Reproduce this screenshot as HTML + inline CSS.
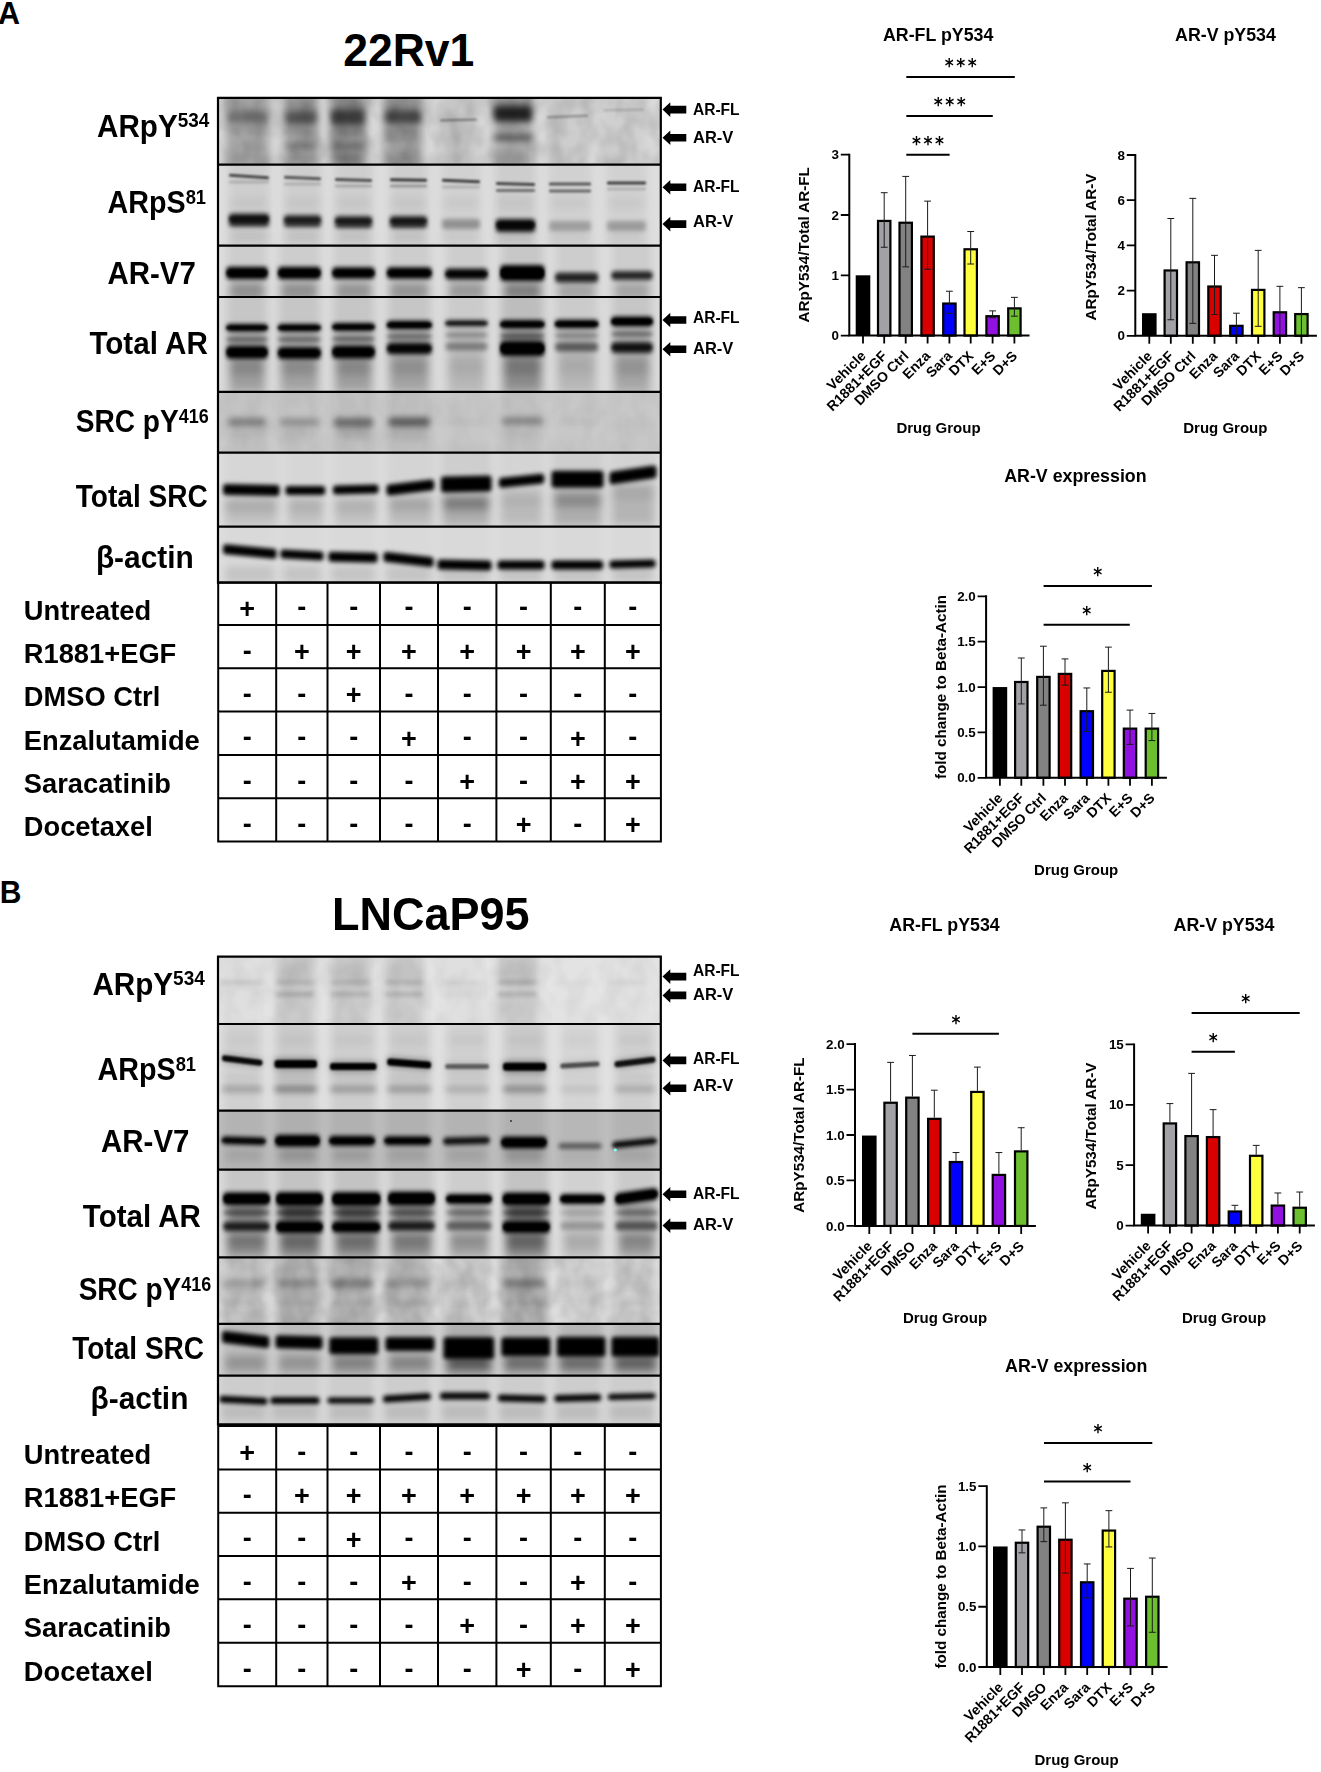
<!DOCTYPE html>
<html lang="en"><head><meta charset="utf-8"><title>Figure</title>
<style>html,body{margin:0;padding:0;background:#fff}svg{display:block}text{font-family:"Liberation Sans",sans-serif;fill:#000}text.st{font-family:"DejaVu Sans Condensed","DejaVu Sans",sans-serif;font-weight:bold}</style></head><body>
<svg width="1321" height="1772" viewBox="0 0 1321 1772">
<rect width="1321" height="1772" fill="#fff"/>
<defs>
<filter id="bs" filterUnits="userSpaceOnUse" x="200" y="80" width="480" height="1360"><feGaussianBlur stdDeviation="1.2"/></filter>
<filter id="bm" filterUnits="userSpaceOnUse" x="200" y="80" width="480" height="1360"><feGaussianBlur stdDeviation="2.1"/></filter>
<filter id="bx" filterUnits="userSpaceOnUse" x="200" y="80" width="480" height="1360"><feGaussianBlur stdDeviation="3.2"/></filter>
<filter id="bl" filterUnits="userSpaceOnUse" x="200" y="80" width="480" height="1360"><feGaussianBlur stdDeviation="4.5"/></filter>
<filter id="bg" filterUnits="userSpaceOnUse" x="200" y="80" width="480" height="1360"><feGaussianBlur stdDeviation="5.0"/></filter>
<filter id="nz" filterUnits="userSpaceOnUse" x="210" y="90" width="460" height="1340"><feTurbulence type="fractalNoise" baseFrequency="0.06 0.045" numOctaves="2" seed="7"/><feColorMatrix type="matrix" values="0 0 0 0 0 0 0 0 0 0 0 0 0 0 0 0.32 0 0 0 -0.1"/></filter>
<clipPath id="cp0"><rect x="218.0" y="97.9" width="442.79999999999995" height="66.80"/></clipPath>
<clipPath id="cp1"><rect x="218.0" y="164.7" width="442.79999999999995" height="80.90"/></clipPath>
<clipPath id="cp2"><rect x="218.0" y="245.6" width="442.79999999999995" height="51.40"/></clipPath>
<clipPath id="cp3"><rect x="218.0" y="297.0" width="442.79999999999995" height="94.80"/></clipPath>
<clipPath id="cp4"><rect x="218.0" y="391.8" width="442.79999999999995" height="60.80"/></clipPath>
<clipPath id="cp5"><rect x="218.0" y="452.6" width="442.79999999999995" height="74.00"/></clipPath>
<clipPath id="cp6"><rect x="218.0" y="526.6" width="442.79999999999995" height="56.00"/></clipPath>
<clipPath id="cp7"><rect x="218.0" y="956.7" width="442.79999999999995" height="67.30"/></clipPath>
<clipPath id="cp8"><rect x="218.0" y="1024.0" width="442.79999999999995" height="86.60"/></clipPath>
<clipPath id="cp9"><rect x="218.0" y="1110.6" width="442.79999999999995" height="59.00"/></clipPath>
<clipPath id="cp10"><rect x="218.0" y="1169.6" width="442.79999999999995" height="87.80"/></clipPath>
<clipPath id="cp11"><rect x="218.0" y="1257.4" width="442.79999999999995" height="66.40"/></clipPath>
<clipPath id="cp12"><rect x="218.0" y="1323.8" width="442.79999999999995" height="51.90"/></clipPath>
<clipPath id="cp13"><rect x="218.0" y="1375.7" width="442.79999999999995" height="48.70"/></clipPath>
</defs>
<g clip-path="url(#cp0)">
<rect x="218.0" y="97.9" width="442.79999999999995" height="66.80" fill="#dadada"/>
<g filter="url(#bg)" fill="#000">
<rect x="226.0" y="87.9" width="43.0" height="86.8" opacity="0.24"/>
<rect x="284.0" y="87.9" width="34.0" height="86.8" opacity="0.27"/>
<rect x="330.0" y="87.9" width="36.0" height="86.8" opacity="0.31"/>
<rect x="384.0" y="87.9" width="38.0" height="86.8" opacity="0.27"/>
<rect x="439.0" y="87.9" width="39.0" height="86.8" opacity="0.09"/>
<rect x="493.0" y="87.9" width="40.0" height="86.8" opacity="0.22"/>
<rect x="546.0" y="87.9" width="43.0" height="86.8" opacity="0.06"/>
<rect x="602.0" y="87.9" width="43.0" height="86.8" opacity="0.05"/>
</g>
<g filter="url(#bl)" fill="#000" stroke="#000" stroke-linecap="round" stroke-linejoin="round"><rect x="229.5" y="104.0" width="36.0" height="8.0" opacity="0.08"/><rect x="287.5" y="104.0" width="27.0" height="8.0" opacity="0.15"/><rect x="333.5" y="103.0" width="29.0" height="8.0" opacity="0.2"/><rect x="387.5" y="104.0" width="31.0" height="8.0" opacity="0.18"/><rect x="496.5" y="102.0" width="33.0" height="8.0" opacity="0.3"/><rect x="229.5" y="154.0" width="36.0" height="8.0" opacity="0.05"/><rect x="287.5" y="154.0" width="27.0" height="8.0" opacity="0.1"/><rect x="333.5" y="154.0" width="29.0" height="8.0" opacity="0.22"/><rect x="387.5" y="154.0" width="31.0" height="8.0" opacity="0.1"/><rect x="496.5" y="154.0" width="33.0" height="8.0" opacity="0.12"/></g>
<g filter="url(#bx)" fill="#000" stroke="#000" stroke-linecap="round" stroke-linejoin="round"><path d="M230.0 114.0L265.0 114.0V120.0L230.0 120.0Z" stroke-width="6.0" opacity="0.3"/><path d="M288.0 114.5L314.0 114.5V121.5L288.0 121.5Z" stroke-width="6.0" opacity="0.48"/><path d="M334.0 113.0L362.0 113.0V122.0L334.0 122.0Z" stroke-width="6.0" opacity="0.6"/><path d="M388.0 113.5L418.0 113.5V120.5L388.0 120.5Z" stroke-width="6.0" opacity="0.55"/><path d="M497.0 109.5L529.0 109.5V118.5L497.0 118.5Z" stroke-width="6.0" opacity="0.8"/><path d="M229.4 130.4L265.6 130.4V131.6L229.4 131.6Z" stroke-width="4.8" opacity="0.06"/><path d="M287.4 130.4L314.6 130.4V131.6L287.4 131.6Z" stroke-width="4.8" opacity="0.12"/><path d="M333.4 130.4L362.6 130.4V131.6L333.4 131.6Z" stroke-width="4.8" opacity="0.2"/><path d="M387.4 130.4L418.6 130.4V131.6L387.4 131.6Z" stroke-width="4.8" opacity="0.15"/><path d="M229.0 145.5L266.0 145.5V146.5L229.0 146.5Z" stroke-width="4.0" opacity="0.04"/><path d="M287.0 145.5L315.0 145.5V146.5L287.0 146.5Z" stroke-width="4.0" opacity="0.28"/><path d="M333.0 145.5L363.0 145.5V146.5L333.0 146.5Z" stroke-width="4.0" opacity="0.3"/><path d="M386.6 138.6L419.4 138.6V139.4L386.6 139.4Z" stroke-width="3.2" opacity="0.16"/><path d="M496.4 136.9L529.6 136.9V138.1L496.4 138.1Z" stroke-width="4.8" opacity="0.5"/></g>
<g filter="url(#bs)" fill="#000" stroke="#000" stroke-linecap="round" stroke-linejoin="round"><path d="M440.9 120.1L476.1 119.5V119.9L440.9 120.5Z" stroke-width="1.8" opacity="0.36"/><path d="M547.9 117.0L587.1 115.5V116.0L547.9 117.5Z" stroke-width="1.8" opacity="0.28"/><path d="M603.9 110.0L643.1 109.5V110.0L603.9 110.5Z" stroke-width="1.8" opacity="0.15"/></g>
<rect x="218.0" y="97.9" width="442.79999999999995" height="66.80" fill="#000" filter="url(#nz)" opacity="0.75"/>
</g>
<g clip-path="url(#cp1)">
<rect x="218.0" y="164.7" width="442.79999999999995" height="80.90" fill="#dedede"/>
<g filter="url(#bg)" fill="#000">
<rect x="228.0" y="154.7" width="42.0" height="100.9" opacity="0.07"/>
<rect x="283.0" y="154.7" width="39.0" height="100.9" opacity="0.07"/>
<rect x="334.0" y="154.7" width="39.0" height="100.9" opacity="0.07"/>
<rect x="389.0" y="154.7" width="39.0" height="100.9" opacity="0.07"/>
<rect x="441.0" y="154.7" width="40.0" height="100.9" opacity="0.06"/>
<rect x="495.0" y="154.7" width="41.0" height="100.9" opacity="0.08"/>
<rect x="548.0" y="154.7" width="44.0" height="100.9" opacity="0.06"/>
<rect x="606.0" y="154.7" width="41.0" height="100.9" opacity="0.06"/>
</g>
<g filter="url(#bl)" fill="#000" stroke="#000" stroke-linecap="round" stroke-linejoin="round"><rect x="231.5" y="200.0" width="35.0" height="6.0" opacity="0.06"/><rect x="286.5" y="200.0" width="32.0" height="6.0" opacity="0.06"/><rect x="337.5" y="200.0" width="32.0" height="6.0" opacity="0.06"/><rect x="392.5" y="200.0" width="32.0" height="6.0" opacity="0.06"/><rect x="444.5" y="200.0" width="33.0" height="6.0" opacity="0.06"/><rect x="498.5" y="200.0" width="34.0" height="6.0" opacity="0.06"/><rect x="551.5" y="200.0" width="37.0" height="6.0" opacity="0.06"/><rect x="609.5" y="200.0" width="34.0" height="6.0" opacity="0.06"/><rect x="231.5" y="232.0" width="35.0" height="8.0" opacity="0.08"/><rect x="286.5" y="232.0" width="32.0" height="8.0" opacity="0.08"/><rect x="337.5" y="232.0" width="32.0" height="8.0" opacity="0.08"/><rect x="392.5" y="232.0" width="32.0" height="8.0" opacity="0.08"/><rect x="444.5" y="232.0" width="33.0" height="8.0" opacity="0.05"/><rect x="498.5" y="232.0" width="34.0" height="8.0" opacity="0.1"/><rect x="551.5" y="232.0" width="37.0" height="8.0" opacity="0.05"/><rect x="609.5" y="232.0" width="34.0" height="8.0" opacity="0.05"/></g>
<g filter="url(#bm)" fill="#000" stroke="#000" stroke-linecap="round" stroke-linejoin="round"><path d="M232.0 216.5L266.0 216.5V223.5L232.0 223.5Z" stroke-width="6.0" opacity="0.85"/><path d="M287.0 218.0L318.0 218.0V224.0L287.0 224.0Z" stroke-width="6.0" opacity="0.78"/><path d="M338.0 219.0L369.0 219.0V225.0L338.0 225.0Z" stroke-width="6.0" opacity="0.8"/><path d="M393.0 219.0L424.0 219.0V225.0L393.0 225.0Z" stroke-width="6.0" opacity="0.82"/><path d="M445.0 222.0L477.0 222.0V226.0L445.0 226.0Z" stroke-width="6.0" opacity="0.3"/><path d="M499.0 222.0L532.0 222.0V229.0L499.0 229.0Z" stroke-width="6.0" opacity="0.92"/><path d="M552.0 224.0L588.0 224.0V228.0L552.0 228.0Z" stroke-width="6.0" opacity="0.24"/><path d="M610.0 224.0L643.0 224.0V228.0L610.0 228.0Z" stroke-width="6.0" opacity="0.25"/></g>
<g filter="url(#bs)" fill="#000" stroke="#000" stroke-linecap="round" stroke-linejoin="round"><path d="M230.2 175.0L267.8 177.4V178.0L230.2 175.6Z" stroke-width="2.4" opacity="0.66"/><path d="M285.2 176.9L319.8 178.4V179.1L285.2 177.6Z" stroke-width="2.4" opacity="0.58"/><path d="M336.2 179.2L370.8 180.2V180.8L336.2 179.8Z" stroke-width="2.4" opacity="0.62"/><path d="M391.2 179.4L425.8 179.9V180.6L391.2 180.1Z" stroke-width="2.4" opacity="0.72"/><path d="M443.2 179.9L478.8 181.4V182.1L443.2 180.6Z" stroke-width="2.4" opacity="0.7"/><path d="M497.2 183.2L533.8 184.2V184.8L497.2 183.8Z" stroke-width="2.4" opacity="0.66"/><path d="M550.2 183.7L589.8 183.7V184.3L550.2 184.3Z" stroke-width="2.4" opacity="0.58"/><path d="M608.2 182.7L644.8 182.7V183.3L608.2 183.3Z" stroke-width="2.4" opacity="0.7"/><path d="M230.2 181.7L267.8 181.7V182.3L230.2 182.3Z" stroke-width="2.4" opacity="0.15"/><path d="M285.2 183.7L319.8 183.7V184.3L285.2 184.3Z" stroke-width="2.4" opacity="0.15"/><path d="M336.2 185.7L370.8 185.7V186.3L336.2 186.3Z" stroke-width="2.4" opacity="0.18"/><path d="M391.2 185.7L425.8 185.7V186.3L391.2 186.3Z" stroke-width="2.4" opacity="0.25"/><path d="M443.2 186.7L478.8 186.7V187.3L443.2 187.3Z" stroke-width="2.4" opacity="0.15"/><path d="M497.2 190.2L533.8 190.2V190.8L497.2 190.8Z" stroke-width="2.4" opacity="0.45"/><path d="M550.2 190.7L589.8 190.7V191.3L550.2 191.3Z" stroke-width="2.4" opacity="0.5"/><path d="M608.2 188.7L644.8 188.7V189.3L608.2 189.3Z" stroke-width="2.4" opacity="0.15"/><path d="M231.0 218.5L267.0 218.5V219.5L231.0 219.5Z" stroke-width="4.0" opacity="0.5"/><path d="M285.6 219.6L319.4 219.6V220.4L285.6 220.4Z" stroke-width="3.2" opacity="0.35"/><path d="M336.6 220.6L370.4 220.6V221.4L336.6 221.4Z" stroke-width="3.2" opacity="0.4"/><path d="M391.6 220.6L425.4 220.6V221.4L391.6 221.4Z" stroke-width="3.2" opacity="0.4"/><path d="M498.4 224.4L532.6 224.4V225.6L498.4 225.6Z" stroke-width="4.8" opacity="0.6"/></g>
</g>
<g clip-path="url(#cp2)">
<rect x="218.0" y="245.6" width="442.79999999999995" height="51.40" fill="#dedede"/>
<g filter="url(#bg)" fill="#000">
<rect x="227.0" y="235.6" width="40.0" height="71.4" opacity="0.08"/>
<rect x="278.7" y="235.6" width="41.3" height="71.4" opacity="0.08"/>
<rect x="333.0" y="235.6" width="41.0" height="71.4" opacity="0.08"/>
<rect x="387.7" y="235.6" width="43.3" height="71.4" opacity="0.08"/>
<rect x="446.0" y="235.6" width="41.0" height="71.4" opacity="0.08"/>
<rect x="501.0" y="235.6" width="42.7" height="71.4" opacity="0.1"/>
<rect x="555.7" y="235.6" width="41.8" height="71.4" opacity="0.08"/>
<rect x="612.0" y="235.6" width="40.0" height="71.4" opacity="0.08"/>
</g>
<g filter="url(#bl)" fill="#000" stroke="#000" stroke-linecap="round" stroke-linejoin="round"><rect x="230.5" y="283.0" width="33.0" height="16.0" opacity="0.3"/><rect x="282.2" y="283.0" width="34.3" height="16.0" opacity="0.3"/><rect x="336.5" y="283.0" width="34.0" height="16.0" opacity="0.28"/><rect x="391.2" y="283.0" width="36.3" height="16.0" opacity="0.28"/><rect x="449.5" y="283.0" width="34.0" height="16.0" opacity="0.25"/><rect x="504.5" y="283.0" width="35.7" height="16.0" opacity="0.36"/><rect x="559.2" y="283.0" width="34.8" height="16.0" opacity="0.2"/><rect x="615.5" y="283.0" width="33.0" height="16.0" opacity="0.2"/></g>
<g filter="url(#bm)" fill="#000" stroke="#000" stroke-linecap="round" stroke-linejoin="round"><path d="M229.5 269.8L264.5 269.8V276.2L229.5 276.2Z" stroke-width="6.0" opacity="1"/><path d="M281.2 269.8L317.5 269.8V276.2L281.2 276.2Z" stroke-width="6.0" opacity="1"/><path d="M335.5 270.2L371.5 270.2V275.8L335.5 275.8Z" stroke-width="6.0" opacity="1"/><path d="M390.2 270.2L428.5 270.2V275.8L390.2 275.8Z" stroke-width="6.0" opacity="1"/><path d="M448.5 271.5L484.5 271.5V276.5L448.5 276.5Z" stroke-width="6.0" opacity="0.95"/><path d="M503.5 268.0L541.2 268.0V278.0L503.5 278.0Z" stroke-width="6.0" opacity="1"/><path d="M558.2 275.5L595.0 275.5V279.5L558.2 279.5Z" stroke-width="6.0" opacity="0.8"/><path d="M614.5 274.0L649.5 274.0V277.0L614.5 277.0Z" stroke-width="6.0" opacity="0.78"/></g>
<g filter="url(#bs)" fill="#000" stroke="#000" stroke-linecap="round" stroke-linejoin="round"><path d="M228.9 272.4L265.1 272.4V273.6L228.9 273.6Z" stroke-width="4.8" opacity="0.8"/><path d="M280.6 272.4L318.1 272.4V273.6L280.6 273.6Z" stroke-width="4.8" opacity="0.8"/><path d="M334.5 272.5L372.5 272.5V273.5L334.5 273.5Z" stroke-width="4.0" opacity="0.7"/><path d="M389.2 272.5L429.5 272.5V273.5L389.2 273.5Z" stroke-width="4.0" opacity="0.7"/><path d="M447.1 273.6L485.9 273.6V274.4L447.1 274.4Z" stroke-width="3.2" opacity="0.6"/><path d="M503.5 271.5L541.2 271.5V274.5L503.5 274.5Z" stroke-width="6.0" opacity="1"/><path d="M556.0 277.3L597.2 277.3V277.7L556.0 277.7Z" stroke-width="1.6" opacity="0.2"/><path d="M612.3 275.3L651.7 275.3V275.7L612.3 275.7Z" stroke-width="1.6" opacity="0.2"/></g>
</g>
<g clip-path="url(#cp3)">
<rect x="218.0" y="297.0" width="442.79999999999995" height="94.80" fill="#dcdcdc"/>
<g filter="url(#bg)" fill="#000">
<rect x="227.0" y="287.0" width="40.0" height="114.8" opacity="0.1"/>
<rect x="278.7" y="287.0" width="41.3" height="114.8" opacity="0.1"/>
<rect x="333.0" y="287.0" width="41.0" height="114.8" opacity="0.1"/>
<rect x="387.7" y="287.0" width="43.3" height="114.8" opacity="0.1"/>
<rect x="446.0" y="287.0" width="41.0" height="114.8" opacity="0.08"/>
<rect x="501.0" y="287.0" width="42.7" height="114.8" opacity="0.14"/>
<rect x="555.7" y="287.0" width="41.8" height="114.8" opacity="0.08"/>
<rect x="612.0" y="287.0" width="40.0" height="114.8" opacity="0.1"/>
</g>
<g filter="url(#bl)" fill="#000" stroke="#000" stroke-linecap="round" stroke-linejoin="round"><rect x="230.5" y="329.0" width="33.0" height="30.0" opacity="0.12"/><rect x="282.2" y="329.0" width="34.3" height="30.0" opacity="0.12"/><rect x="336.5" y="329.0" width="34.0" height="30.0" opacity="0.12"/><rect x="391.2" y="329.0" width="36.3" height="30.0" opacity="0.12"/><rect x="449.5" y="329.0" width="34.0" height="30.0" opacity="0.08"/><rect x="504.5" y="329.0" width="35.7" height="30.0" opacity="0.18"/><rect x="559.2" y="329.0" width="34.8" height="30.0" opacity="0.1"/><rect x="615.5" y="329.0" width="33.0" height="30.0" opacity="0.12"/><rect x="230.5" y="359.0" width="33.0" height="16.0" opacity="0.32"/><rect x="282.2" y="359.0" width="34.3" height="16.0" opacity="0.3"/><rect x="336.5" y="359.0" width="34.0" height="16.0" opacity="0.32"/><rect x="391.2" y="359.0" width="36.3" height="16.0" opacity="0.28"/><rect x="449.5" y="359.0" width="34.0" height="16.0" opacity="0.16"/><rect x="504.5" y="359.0" width="35.7" height="16.0" opacity="0.38"/><rect x="559.2" y="359.0" width="34.8" height="16.0" opacity="0.16"/><rect x="615.5" y="359.0" width="33.0" height="16.0" opacity="0.26"/><rect x="230.5" y="376.0" width="33.0" height="14.0" opacity="0.2"/><rect x="282.2" y="376.0" width="34.3" height="14.0" opacity="0.18"/><rect x="336.5" y="376.0" width="34.0" height="14.0" opacity="0.2"/><rect x="391.2" y="376.0" width="36.3" height="14.0" opacity="0.18"/><rect x="449.5" y="376.0" width="34.0" height="14.0" opacity="0.1"/><rect x="504.5" y="376.0" width="35.7" height="14.0" opacity="0.26"/><rect x="559.2" y="376.0" width="34.8" height="14.0" opacity="0.1"/><rect x="615.5" y="376.0" width="33.0" height="14.0" opacity="0.16"/></g>
<g filter="url(#bm)" fill="#000" stroke="#000" stroke-linecap="round" stroke-linejoin="round"><path d="M229.5 327.1L264.5 327.1V328.6L229.5 328.6Z" stroke-width="6.0" opacity="1"/><path d="M281.2 327.1L317.5 327.1V328.6L281.2 328.6Z" stroke-width="6.0" opacity="1"/><path d="M335.5 326.0L371.5 326.0V328.0L335.5 328.0Z" stroke-width="6.0" opacity="1"/><path d="M390.2 323.8L428.5 323.8V326.2L390.2 326.2Z" stroke-width="6.0" opacity="1"/><path d="M447.9 322.7L485.1 322.7V323.9L447.9 323.9Z" stroke-width="4.8" opacity="0.9"/><path d="M503.5 323.1L541.2 323.1V325.6L503.5 325.6Z" stroke-width="6.0" opacity="1"/><path d="M558.2 322.8L595.0 322.8V325.2L558.2 325.2Z" stroke-width="6.0" opacity="1"/><path d="M614.5 319.6L649.5 319.6V323.6L614.5 323.6Z" stroke-width="6.0" opacity="1"/><path d="M228.9 338.9L265.1 338.9V340.1L228.9 340.1Z" stroke-width="4.8" opacity="0.42"/><path d="M280.6 338.9L318.1 338.9V340.1L280.6 340.1Z" stroke-width="4.8" opacity="0.4"/><path d="M334.9 338.4L372.1 338.4V339.6L334.9 339.6Z" stroke-width="4.8" opacity="0.42"/><path d="M389.6 335.9L429.1 335.9V337.1L389.6 337.1Z" stroke-width="4.8" opacity="0.4"/><path d="M447.9 334.4L485.1 334.4V335.6L447.9 335.6Z" stroke-width="4.8" opacity="0.25"/><path d="M502.9 335.4L541.8 335.4V336.6L502.9 336.6Z" stroke-width="4.8" opacity="0.45"/><path d="M557.6 334.9L595.6 334.9V336.1L557.6 336.1Z" stroke-width="4.8" opacity="0.28"/><path d="M613.9 333.4L650.1 333.4V334.6L613.9 334.6Z" stroke-width="4.8" opacity="0.38"/><path d="M229.5 348.8L264.5 348.8V355.8L229.5 355.8Z" stroke-width="6.0" opacity="1"/><path d="M281.2 350.0L317.5 350.0V356.0L281.2 356.0Z" stroke-width="6.0" opacity="1"/><path d="M335.5 348.5L371.5 348.5V355.5L335.5 355.5Z" stroke-width="6.0" opacity="1"/><path d="M390.2 345.8L428.5 345.8V351.2L390.2 351.2Z" stroke-width="6.0" opacity="0.95"/><path d="M448.5 345.5L484.5 345.5V347.5L448.5 347.5Z" stroke-width="6.0" opacity="0.34"/><path d="M503.5 344.0L541.2 344.0V353.0L503.5 353.0Z" stroke-width="6.0" opacity="1"/><path d="M558.2 345.5L595.0 345.5V348.5L558.2 348.5Z" stroke-width="6.0" opacity="0.5"/><path d="M614.5 345.0L649.5 345.0V350.0L614.5 350.0Z" stroke-width="6.0" opacity="0.85"/></g>
<g filter="url(#bs)" fill="#000" stroke="#000" stroke-linecap="round" stroke-linejoin="round"><path d="M227.7 327.5L266.3 327.5V328.1L227.7 328.1Z" stroke-width="2.4" opacity="0.8"/><path d="M279.4 327.5L319.3 327.5V328.1L279.4 328.1Z" stroke-width="2.4" opacity="0.8"/><path d="M333.7 326.7L373.3 326.7V327.3L333.7 327.3Z" stroke-width="2.4" opacity="0.8"/><path d="M388.8 324.6L429.9 324.6V325.4L388.8 325.4Z" stroke-width="3.2" opacity="0.8"/><path d="M446.3 323.1L486.7 323.1V323.5L446.3 323.5Z" stroke-width="1.6" opacity="0.5"/><path d="M502.1 324.0L542.6 324.0V324.8L502.1 324.8Z" stroke-width="3.2" opacity="0.8"/><path d="M556.8 323.6L596.4 323.6V324.4L556.8 324.4Z" stroke-width="3.2" opacity="0.8"/><path d="M613.5 321.1L650.5 321.1V322.1L613.5 322.1Z" stroke-width="4.0" opacity="0.9"/><path d="M228.9 351.7L265.1 351.7V352.9L228.9 352.9Z" stroke-width="4.8" opacity="0.8"/><path d="M280.2 352.5L318.5 352.5V353.5L280.2 353.5Z" stroke-width="4.0" opacity="0.7"/><path d="M334.9 351.4L372.1 351.4V352.6L334.9 352.6Z" stroke-width="4.8" opacity="0.8"/><path d="M388.8 348.1L429.9 348.1V348.9L388.8 348.9Z" stroke-width="3.2" opacity="0.6"/><path d="M503.5 347.5L541.2 347.5V349.5L503.5 349.5Z" stroke-width="6.0" opacity="1"/><path d="M612.7 347.2L651.3 347.2V347.8L612.7 347.8Z" stroke-width="2.4" opacity="0.4"/></g>
</g>
<g clip-path="url(#cp4)">
<rect x="218.0" y="391.8" width="442.79999999999995" height="60.80" fill="#cbcbcb"/>
<g filter="url(#bg)" fill="#000">
<rect x="227.0" y="381.8" width="40.0" height="80.8" opacity="0.04"/>
<rect x="278.7" y="381.8" width="41.3" height="80.8" opacity="0.04"/>
<rect x="333.0" y="381.8" width="41.0" height="80.8" opacity="0.05"/>
<rect x="387.7" y="381.8" width="43.3" height="80.8" opacity="0.05"/>
<rect x="446.0" y="381.8" width="41.0" height="80.8" opacity="0.02"/>
<rect x="501.0" y="381.8" width="42.7" height="80.8" opacity="0.04"/>
<rect x="555.7" y="381.8" width="41.8" height="80.8" opacity="0.02"/>
<rect x="612.0" y="381.8" width="40.0" height="80.8" opacity="0.02"/>
</g>
<g filter="url(#bl)" fill="#000" stroke="#000" stroke-linecap="round" stroke-linejoin="round"><rect x="230.5" y="428.0" width="33.0" height="10.0" opacity="0.08"/><rect x="282.2" y="428.0" width="34.3" height="10.0" opacity="0.06"/><rect x="336.5" y="428.0" width="34.0" height="10.0" opacity="0.14"/><rect x="391.2" y="428.0" width="36.3" height="10.0" opacity="0.12"/><rect x="504.5" y="428.0" width="35.7" height="10.0" opacity="0.06"/></g>
<g filter="url(#bx)" fill="#000" stroke="#000" stroke-linecap="round" stroke-linejoin="round"><path d="M231.0 421.0L263.0 421.0V423.0L231.0 423.0Z" stroke-width="6.0" opacity="0.36"/><path d="M282.5 421.3L316.2 421.3V422.7L282.5 422.7Z" stroke-width="5.6" opacity="0.28"/><path d="M337.0 421.0L370.0 421.0V424.0L337.0 424.0Z" stroke-width="6.0" opacity="0.46"/><path d="M391.7 420.5L427.0 420.5V423.5L391.7 423.5Z" stroke-width="6.0" opacity="0.54"/><path d="M449.0 421.5L484.0 421.5V422.5L449.0 422.5Z" stroke-width="4.0" opacity="0.05"/><path d="M504.8 420.3L539.9 420.3V421.7L504.8 421.7Z" stroke-width="5.6" opacity="0.36"/><path d="M558.7 421.5L594.5 421.5V422.5L558.7 422.5Z" stroke-width="4.0" opacity="0.05"/><path d="M615.0 421.5L649.0 421.5V422.5L615.0 422.5Z" stroke-width="4.0" opacity="0.02"/></g>
<rect x="218.0" y="391.8" width="442.79999999999995" height="60.80" fill="#000" filter="url(#nz)" opacity="0.25"/>
</g>
<g clip-path="url(#cp5)">
<rect x="218.0" y="452.6" width="442.79999999999995" height="74.00" fill="#dfdfdf"/>
<g filter="url(#bg)" fill="#000">
<rect x="222.5" y="442.6" width="57.5" height="94.0" opacity="0.04"/>
<rect x="285.0" y="442.6" width="40.7" height="94.0" opacity="0.04"/>
<rect x="332.5" y="442.6" width="46.5" height="94.0" opacity="0.04"/>
<rect x="386.0" y="442.6" width="48.7" height="94.0" opacity="0.05"/>
<rect x="440.5" y="442.6" width="51.5" height="94.0" opacity="0.08"/>
<rect x="498.4" y="442.6" width="46.3" height="94.0" opacity="0.05"/>
<rect x="551.0" y="442.6" width="53.0" height="94.0" opacity="0.08"/>
<rect x="609.0" y="442.6" width="48.0" height="94.0" opacity="0.06"/>
</g>
<g filter="url(#bl)" fill="#000" stroke="#000" stroke-linecap="round" stroke-linejoin="round"><rect x="226.0" y="498.0" width="50.5" height="14.0" opacity="0.1"/><rect x="288.5" y="498.0" width="33.7" height="14.0" opacity="0.08"/><rect x="336.0" y="498.0" width="39.5" height="14.0" opacity="0.08"/><rect x="389.5" y="496.0" width="41.7" height="14.0" opacity="0.12"/><rect x="444.0" y="495.0" width="44.5" height="14.0" opacity="0.3"/><rect x="501.9" y="489.0" width="39.3" height="14.0" opacity="0.12"/><rect x="554.5" y="491.0" width="46.0" height="14.0" opacity="0.28"/><rect x="612.5" y="485.0" width="41.0" height="14.0" opacity="0.2"/><rect x="226.0" y="500.0" width="50.5" height="24.0" opacity="0.1"/><rect x="288.5" y="500.0" width="33.7" height="24.0" opacity="0.1"/><rect x="336.0" y="500.0" width="39.5" height="24.0" opacity="0.1"/><rect x="389.5" y="500.0" width="41.7" height="24.0" opacity="0.12"/><rect x="444.0" y="500.0" width="44.5" height="24.0" opacity="0.16"/><rect x="501.9" y="500.0" width="39.3" height="24.0" opacity="0.12"/><rect x="554.5" y="500.0" width="46.0" height="24.0" opacity="0.16"/><rect x="612.5" y="500.0" width="41.0" height="24.0" opacity="0.14"/></g>
<g filter="url(#bm)" fill="#000" stroke="#000" stroke-linecap="round" stroke-linejoin="round"><path d="M226.0 487.0L276.5 488.0V493.0L226.0 492.0Z" stroke-width="6.0" opacity="1"/><path d="M288.5 489.0L322.2 489.0V492.0L288.5 492.0Z" stroke-width="6.0" opacity="1"/><path d="M336.0 488.5L375.5 487.5V490.5L336.0 491.5Z" stroke-width="6.0" opacity="1"/><path d="M389.5 487.5L431.2 482.5V487.5L389.5 492.5Z" stroke-width="6.0" opacity="1"/><path d="M444.0 479.5L488.5 478.5V488.5L444.0 489.5Z" stroke-width="6.0" opacity="1"/><path d="M501.9 480.7L541.2 476.7V480.7L501.9 484.7Z" stroke-width="6.0" opacity="1"/><path d="M554.5 473.8L600.5 473.8V484.8L554.5 484.8Z" stroke-width="6.0" opacity="1"/><path d="M612.5 474.4L653.5 468.4V475.4L612.5 481.4Z" stroke-width="6.0" opacity="1"/></g>
</g>
<g clip-path="url(#cp6)">
<rect x="218.0" y="526.6" width="442.79999999999995" height="56.00" fill="#e0e0e0"/>
<g filter="url(#bg)" fill="#000">
<rect x="222.5" y="516.6" width="54.5" height="76.0" opacity="0.03"/>
<rect x="280.0" y="516.6" width="44.0" height="76.0" opacity="0.03"/>
<rect x="328.0" y="516.6" width="50.0" height="76.0" opacity="0.03"/>
<rect x="383.0" y="516.6" width="51.0" height="76.0" opacity="0.03"/>
<rect x="437.0" y="516.6" width="55.0" height="76.0" opacity="0.03"/>
<rect x="497.0" y="516.6" width="48.0" height="76.0" opacity="0.03"/>
<rect x="551.0" y="516.6" width="52.6" height="76.0" opacity="0.03"/>
<rect x="609.0" y="516.6" width="47.0" height="76.0" opacity="0.03"/>
</g>
<g filter="url(#bl)" fill="#000" stroke="#000" stroke-linecap="round" stroke-linejoin="round"><rect x="226.0" y="567.0" width="47.5" height="14.0" opacity="0.1"/><rect x="283.5" y="567.0" width="37.0" height="14.0" opacity="0.1"/><rect x="331.5" y="567.0" width="43.0" height="14.0" opacity="0.1"/><rect x="386.5" y="567.0" width="44.0" height="14.0" opacity="0.1"/><rect x="440.5" y="567.0" width="48.0" height="14.0" opacity="0.1"/><rect x="500.5" y="567.0" width="41.0" height="14.0" opacity="0.1"/><rect x="554.5" y="567.0" width="45.6" height="14.0" opacity="0.1"/><rect x="612.5" y="567.0" width="40.0" height="14.0" opacity="0.1"/></g>
<g filter="url(#bm)" fill="#000" stroke="#000" stroke-linecap="round" stroke-linejoin="round"><path d="M226.0 547.2L273.5 551.8V555.8L226.0 551.2Z" stroke-width="6.0" opacity="1"/><path d="M283.5 552.5L320.5 554.5V557.5L283.5 555.5Z" stroke-width="6.0" opacity="1"/><path d="M331.5 554.8L374.5 555.8V559.8L331.5 558.8Z" stroke-width="6.0" opacity="1"/><path d="M386.5 555.0L430.5 560.0V564.0L386.5 559.0Z" stroke-width="6.0" opacity="1"/><path d="M440.5 562.5L488.5 563.5V567.5L440.5 566.5Z" stroke-width="6.0" opacity="1"/><path d="M500.5 563.5L541.5 563.5V566.5L500.5 566.5Z" stroke-width="6.0" opacity="1"/><path d="M554.5 563.5L600.1 563.5V566.5L554.5 566.5Z" stroke-width="6.0" opacity="1"/><path d="M612.5 563.5L652.5 562.5V564.5L612.5 565.5Z" stroke-width="6.0" opacity="1"/></g>
</g>
<g clip-path="url(#cp7)">
<rect x="218.0" y="956.7" width="442.79999999999995" height="67.30" fill="#e6e6e6"/>
<g filter="url(#bg)" fill="#000">
<rect x="219.0" y="946.7" width="44.7" height="87.3" opacity="0.03"/>
<rect x="275.0" y="946.7" width="40.0" height="87.3" opacity="0.12"/>
<rect x="330.0" y="946.7" width="41.0" height="87.3" opacity="0.12"/>
<rect x="384.0" y="946.7" width="40.5" height="87.3" opacity="0.11"/>
<rect x="440.5" y="946.7" width="41.2" height="87.3" opacity="0.03"/>
<rect x="496.7" y="946.7" width="41.3" height="87.3" opacity="0.11"/>
<rect x="551.0" y="946.7" width="41.0" height="87.3" opacity="0.01"/>
<rect x="607.0" y="946.7" width="41.0" height="87.3" opacity="0.02"/>
</g>
<g filter="url(#bl)" fill="#000" stroke="#000" stroke-linecap="round" stroke-linejoin="round"><rect x="278.5" y="963.0" width="33.0" height="18.0" opacity="0.05"/><rect x="333.5" y="963.0" width="34.0" height="18.0" opacity="0.05"/><rect x="387.5" y="963.0" width="33.5" height="18.0" opacity="0.05"/><rect x="500.2" y="963.0" width="34.3" height="18.0" opacity="0.06"/></g>
<g filter="url(#bm)" fill="#000" stroke="#000" stroke-linecap="round" stroke-linejoin="round"><path d="M221.6 982.0L261.1 982.0V982.8L221.6 982.8Z" stroke-width="3.2" opacity="0.1"/><path d="M277.6 982.0L312.4 982.0V982.8L277.6 982.8Z" stroke-width="3.2" opacity="0.14"/><path d="M332.6 982.0L368.4 982.0V982.8L332.6 982.8Z" stroke-width="3.2" opacity="0.14"/><path d="M386.6 982.0L421.9 982.0V982.8L386.6 982.8Z" stroke-width="3.2" opacity="0.14"/><path d="M443.1 982.0L479.1 982.0V982.8L443.1 982.8Z" stroke-width="3.2" opacity="0.05"/><path d="M499.3 982.0L535.4 982.0V982.8L499.3 982.8Z" stroke-width="3.2" opacity="0.18"/><path d="M553.6 982.0L589.4 982.0V982.8L553.6 982.8Z" stroke-width="3.2" opacity="0.02"/><path d="M609.6 982.0L645.4 982.0V982.8L609.6 982.8Z" stroke-width="3.2" opacity="0.05"/><path d="M277.8 993.8L312.2 993.8V994.8L277.8 994.8Z" stroke-width="3.6" opacity="0.17"/><path d="M332.8 993.8L368.2 993.8V994.8L332.8 994.8Z" stroke-width="3.6" opacity="0.14"/><path d="M386.8 993.8L421.7 993.8V994.8L386.8 994.8Z" stroke-width="3.6" opacity="0.14"/><path d="M443.3 993.8L478.9 993.8V994.8L443.3 994.8Z" stroke-width="3.6" opacity="0.02"/><path d="M499.5 993.8L535.2 993.8V994.8L499.5 994.8Z" stroke-width="3.6" opacity="0.16"/></g>
<rect x="218.0" y="956.7" width="442.79999999999995" height="67.30" fill="#000" filter="url(#nz)" opacity="0.3"/>
</g>
<g clip-path="url(#cp8)">
<rect x="218.0" y="1024.0" width="442.79999999999995" height="86.60" fill="#e2e2e2"/>
<g filter="url(#bg)" fill="#000">
<rect x="222.5" y="1014.0" width="39.5" height="106.6" opacity="0.08"/>
<rect x="275.0" y="1014.0" width="41.5" height="106.6" opacity="0.1"/>
<rect x="330.5" y="1014.0" width="45.5" height="106.6" opacity="0.09"/>
<rect x="387.7" y="1014.0" width="42.9" height="106.6" opacity="0.09"/>
<rect x="445.6" y="1014.0" width="42.9" height="106.6" opacity="0.08"/>
<rect x="503.5" y="1014.0" width="42.2" height="106.6" opacity="0.1"/>
<rect x="560.8" y="1014.0" width="38.2" height="106.6" opacity="0.06"/>
<rect x="615.0" y="1014.0" width="40.0" height="106.6" opacity="0.08"/>
</g>
<g filter="url(#bl)" fill="#000" stroke="#000" stroke-linecap="round" stroke-linejoin="round"><rect x="226.0" y="1036.0" width="32.5" height="8.0" opacity="0.04"/><rect x="278.5" y="1036.0" width="34.5" height="8.0" opacity="0.05"/><rect x="334.0" y="1036.0" width="38.5" height="8.0" opacity="0.05"/><rect x="391.2" y="1036.0" width="35.9" height="8.0" opacity="0.05"/><rect x="449.1" y="1036.0" width="35.9" height="8.0" opacity="0.05"/><rect x="507.0" y="1036.0" width="35.2" height="8.0" opacity="0.05"/><rect x="564.3" y="1036.0" width="31.2" height="8.0" opacity="0.04"/><rect x="618.5" y="1036.0" width="33.0" height="8.0" opacity="0.05"/></g>
<g filter="url(#bx)" fill="#000" stroke="#000" stroke-linecap="round" stroke-linejoin="round"><path d="M225.0 1057.2L259.5 1061.8V1063.8L225.0 1059.2Z" stroke-width="6.0" opacity="0.3"/><path d="M277.5 1061.5L314.0 1061.5V1066.5L277.5 1066.5Z" stroke-width="6.0" opacity="0.4"/><path d="M333.0 1064.5L373.5 1064.5V1068.5L333.0 1068.5Z" stroke-width="6.0" opacity="0.35"/><path d="M390.2 1060.0L428.1 1063.0V1067.0L390.2 1064.0Z" stroke-width="6.0" opacity="0.35"/><path d="M447.9 1065.8L486.2 1065.8V1067.2L447.9 1067.2Z" stroke-width="5.6" opacity="0.15"/><path d="M506.0 1064.3L543.2 1064.3V1069.3L506.0 1069.3Z" stroke-width="6.0" opacity="0.4"/><path d="M563.1 1065.3L596.7 1063.3V1064.7L563.1 1066.7Z" stroke-width="5.6" opacity="0.15"/><path d="M617.5 1063.2L652.5 1058.8V1060.8L617.5 1065.2Z" stroke-width="6.0" opacity="0.3"/><path d="M224.8 1088.3L259.7 1088.3V1089.7L224.8 1089.7Z" stroke-width="5.6" opacity="0.24"/><path d="M277.3 1088.3L314.2 1088.3V1089.7L277.3 1089.7Z" stroke-width="5.6" opacity="0.38"/><path d="M332.8 1088.3L373.7 1088.3V1089.7L332.8 1089.7Z" stroke-width="5.6" opacity="0.28"/><path d="M390.0 1088.3L428.3 1088.3V1089.7L390.0 1089.7Z" stroke-width="5.6" opacity="0.28"/><path d="M447.9 1088.3L486.2 1088.3V1089.7L447.9 1089.7Z" stroke-width="5.6" opacity="0.18"/><path d="M505.8 1088.3L543.4 1088.3V1089.7L505.8 1089.7Z" stroke-width="5.6" opacity="0.34"/><path d="M563.1 1088.3L596.7 1088.3V1089.7L563.1 1089.7Z" stroke-width="5.6" opacity="0.1"/><path d="M617.3 1088.3L652.7 1088.3V1089.7L617.3 1089.7Z" stroke-width="5.6" opacity="0.2"/><path d="M224.0 1076.5L260.5 1076.5V1077.5L224.0 1077.5Z" stroke-width="4.0" opacity="0.05"/><path d="M276.5 1076.5L315.0 1076.5V1077.5L276.5 1077.5Z" stroke-width="4.0" opacity="0.12"/><path d="M332.0 1076.5L374.5 1076.5V1077.5L332.0 1077.5Z" stroke-width="4.0" opacity="0.08"/><path d="M389.2 1076.5L429.1 1076.5V1077.5L389.2 1077.5Z" stroke-width="4.0" opacity="0.08"/><path d="M447.1 1076.5L487.0 1076.5V1077.5L447.1 1077.5Z" stroke-width="4.0" opacity="0.06"/><path d="M505.0 1076.5L544.2 1076.5V1077.5L505.0 1077.5Z" stroke-width="4.0" opacity="0.1"/><path d="M562.3 1076.5L597.5 1076.5V1077.5L562.3 1077.5Z" stroke-width="4.0" opacity="0.04"/><path d="M616.5 1076.5L653.5 1076.5V1077.5L616.5 1077.5Z" stroke-width="4.0" opacity="0.06"/></g>
<g filter="url(#bs)" fill="#000" stroke="#000" stroke-linecap="round" stroke-linejoin="round"><path d="M224.4 1057.7L260.1 1062.2V1063.3L224.4 1058.8Z" stroke-width="4.8" opacity="0.95"/><path d="M277.5 1063.0L314.0 1063.0V1065.0L277.5 1065.0Z" stroke-width="6.0" opacity="1"/><path d="M332.8 1065.8L373.7 1065.8V1067.2L332.8 1067.2Z" stroke-width="5.6" opacity="1"/><path d="M390.0 1061.3L428.3 1064.3V1065.7L390.0 1062.7Z" stroke-width="5.6" opacity="1"/><path d="M447.1 1066.0L487.0 1066.0V1067.0L447.1 1067.0Z" stroke-width="4.0" opacity="0.5"/><path d="M506.0 1065.8L543.2 1065.8V1067.8L506.0 1067.8Z" stroke-width="6.0" opacity="1"/><path d="M562.3 1065.5L597.5 1063.5V1064.5L562.3 1066.5Z" stroke-width="4.0" opacity="0.6"/><path d="M616.9 1063.7L653.1 1059.2V1060.3L616.9 1064.8Z" stroke-width="4.8" opacity="0.9"/></g>
</g>
<g clip-path="url(#cp9)">
<rect x="218.0" y="1110.6" width="442.79999999999995" height="59.00" fill="#bebebe"/>
<g filter="url(#bg)" fill="#000">
<rect x="222.5" y="1100.6" width="42.5" height="79.0" opacity="0.06"/>
<rect x="276.0" y="1100.6" width="43.0" height="79.0" opacity="0.08"/>
<rect x="330.0" y="1100.6" width="44.0" height="79.0" opacity="0.07"/>
<rect x="385.0" y="1100.6" width="45.0" height="79.0" opacity="0.07"/>
<rect x="444.0" y="1100.6" width="45.0" height="79.0" opacity="0.06"/>
<rect x="502.0" y="1100.6" width="44.0" height="79.0" opacity="0.08"/>
<rect x="559.0" y="1100.6" width="42.0" height="79.0" opacity="0.04"/>
<rect x="613.0" y="1100.6" width="43.0" height="79.0" opacity="0.06"/>
</g>
<g filter="url(#bl)" fill="#000" stroke="#000" stroke-linecap="round" stroke-linejoin="round"><rect x="226.0" y="1150.5" width="35.5" height="9.0" opacity="0.1"/><rect x="279.5" y="1150.5" width="36.0" height="9.0" opacity="0.2"/><rect x="333.5" y="1150.5" width="37.0" height="9.0" opacity="0.15"/><rect x="388.5" y="1150.5" width="38.0" height="9.0" opacity="0.12"/><rect x="447.5" y="1150.5" width="38.0" height="9.0" opacity="0.12"/><rect x="505.5" y="1150.5" width="37.0" height="9.0" opacity="0.2"/><rect x="562.5" y="1150.5" width="35.0" height="9.0" opacity="0.06"/><rect x="616.5" y="1150.5" width="36.0" height="9.0" opacity="0.1"/></g>
<g filter="url(#bm)" fill="#000" stroke="#000" stroke-linecap="round" stroke-linejoin="round"><path d="M225.0 1139.3L262.5 1140.3V1142.3L225.0 1141.3Z" stroke-width="6.0" opacity="0.95"/><path d="M278.5 1137.8L316.5 1137.8V1143.8L278.5 1143.8Z" stroke-width="6.0" opacity="1"/><path d="M332.5 1138.8L371.5 1138.8V1142.8L332.5 1142.8Z" stroke-width="6.0" opacity="1"/><path d="M387.5 1139.3L427.5 1139.3V1142.3L387.5 1142.3Z" stroke-width="6.0" opacity="1"/><path d="M446.5 1140.3L486.5 1139.3V1141.3L446.5 1142.3Z" stroke-width="6.0" opacity="0.85"/><path d="M504.5 1139.5L543.5 1139.5V1145.5L504.5 1145.5Z" stroke-width="6.0" opacity="1"/><path d="M560.9 1145.3L599.1 1145.3V1146.5L560.9 1146.5Z" stroke-width="4.8" opacity="0.5"/><path d="M615.3 1144.3L653.7 1140.3V1141.7L615.3 1145.7Z" stroke-width="5.6" opacity="0.9"/></g>
<g filter="url(#bs)" fill="#000" stroke="#000" stroke-linecap="round" stroke-linejoin="round"><path d="M223.2 1140.0L264.3 1141.0V1141.6L223.2 1140.6Z" stroke-width="2.4" opacity="0.6"/><path d="M277.9 1140.2L317.1 1140.2V1141.4L277.9 1141.4Z" stroke-width="4.8" opacity="0.9"/><path d="M331.1 1140.4L372.9 1140.4V1141.2L331.1 1141.2Z" stroke-width="3.2" opacity="0.8"/><path d="M385.7 1140.5L429.3 1140.5V1141.1L385.7 1141.1Z" stroke-width="2.4" opacity="0.7"/><path d="M444.3 1141.1L488.7 1140.1V1140.5L444.3 1141.5Z" stroke-width="1.6" opacity="0.4"/><path d="M503.9 1141.9L544.1 1141.9V1143.1L503.9 1143.1Z" stroke-width="4.8" opacity="0.9"/><path d="M613.3 1144.8L655.7 1140.8V1141.2L613.3 1145.2Z" stroke-width="1.6" opacity="0.5"/></g>
<circle cx="615.3" cy="1150" r="1.6" fill="#8ff"/><circle cx="511" cy="1121" r="0.9" fill="#222"/>
</g>
<g clip-path="url(#cp10)">
<rect x="218.0" y="1169.6" width="442.79999999999995" height="87.80" fill="#dedede"/>
<g filter="url(#bg)" fill="#000">
<rect x="224.0" y="1159.6" width="45.0" height="107.8" opacity="0.1"/>
<rect x="277.0" y="1159.6" width="45.0" height="107.8" opacity="0.12"/>
<rect x="333.0" y="1159.6" width="46.5" height="107.8" opacity="0.12"/>
<rect x="389.0" y="1159.6" width="45.0" height="107.8" opacity="0.11"/>
<rect x="447.0" y="1159.6" width="44.0" height="107.8" opacity="0.08"/>
<rect x="503.5" y="1159.6" width="45.5" height="107.8" opacity="0.12"/>
<rect x="561.0" y="1159.6" width="42.7" height="107.8" opacity="0.06"/>
<rect x="616.0" y="1159.6" width="41.0" height="107.8" opacity="0.09"/>
</g>
<g filter="url(#bl)" fill="#000" stroke="#000" stroke-linecap="round" stroke-linejoin="round"><rect x="227.5" y="1204.0" width="38.0" height="18.0" opacity="0.4"/><rect x="280.5" y="1204.0" width="38.0" height="18.0" opacity="0.6"/><rect x="336.5" y="1204.0" width="39.5" height="18.0" opacity="0.55"/><rect x="392.5" y="1204.0" width="38.0" height="18.0" opacity="0.42"/><rect x="450.5" y="1204.0" width="37.0" height="18.0" opacity="0.28"/><rect x="507.0" y="1204.0" width="38.5" height="18.0" opacity="0.55"/><rect x="564.5" y="1204.0" width="35.7" height="18.0" opacity="0.12"/><rect x="619.5" y="1204.0" width="34.0" height="18.0" opacity="0.28"/><rect x="227.5" y="1233.0" width="38.0" height="14.0" opacity="0.42"/><rect x="280.5" y="1233.0" width="38.0" height="14.0" opacity="0.48"/><rect x="336.5" y="1233.0" width="39.5" height="14.0" opacity="0.45"/><rect x="392.5" y="1233.0" width="38.0" height="14.0" opacity="0.4"/><rect x="450.5" y="1233.0" width="37.0" height="14.0" opacity="0.3"/><rect x="507.0" y="1233.0" width="38.5" height="14.0" opacity="0.5"/><rect x="564.5" y="1233.0" width="35.7" height="14.0" opacity="0.18"/><rect x="619.5" y="1233.0" width="34.0" height="14.0" opacity="0.34"/><rect x="227.5" y="1247.0" width="38.0" height="10.0" opacity="0.25"/><rect x="280.5" y="1247.0" width="38.0" height="10.0" opacity="0.3"/><rect x="336.5" y="1247.0" width="39.5" height="10.0" opacity="0.28"/><rect x="392.5" y="1247.0" width="38.0" height="10.0" opacity="0.25"/><rect x="450.5" y="1247.0" width="37.0" height="10.0" opacity="0.18"/><rect x="507.0" y="1247.0" width="38.5" height="10.0" opacity="0.3"/><rect x="564.5" y="1247.0" width="35.7" height="10.0" opacity="0.1"/><rect x="619.5" y="1247.0" width="34.0" height="10.0" opacity="0.2"/></g>
<g filter="url(#bm)" fill="#000" stroke="#000" stroke-linecap="round" stroke-linejoin="round"><path d="M226.5 1195.2L266.5 1195.2V1202.2L226.5 1202.2Z" stroke-width="6.0" opacity="1"/><path d="M279.5 1195.0L319.5 1195.0V1203.0L279.5 1203.0Z" stroke-width="6.0" opacity="1"/><path d="M335.5 1195.0L377.0 1195.0V1203.0L335.5 1203.0Z" stroke-width="6.0" opacity="1"/><path d="M391.5 1194.5L431.5 1194.5V1202.5L391.5 1202.5Z" stroke-width="6.0" opacity="1"/><path d="M449.5 1197.0L488.5 1197.0V1201.0L449.5 1201.0Z" stroke-width="6.0" opacity="1"/><path d="M506.0 1195.5L546.5 1195.5V1202.5L506.0 1202.5Z" stroke-width="6.0" opacity="1"/><path d="M563.5 1197.0L601.2 1197.0V1201.0L563.5 1201.0Z" stroke-width="6.0" opacity="1"/><path d="M618.5 1196.0L654.5 1191.0V1197.0L618.5 1202.0Z" stroke-width="6.0" opacity="1"/><path d="M225.5 1212.0L267.5 1212.0V1213.0L225.5 1213.0Z" stroke-width="4.0" opacity="0.4"/><path d="M278.5 1212.0L320.5 1212.0V1213.0L278.5 1213.0Z" stroke-width="4.0" opacity="0.45"/><path d="M334.5 1212.0L378.0 1212.0V1213.0L334.5 1213.0Z" stroke-width="4.0" opacity="0.4"/><path d="M390.5 1212.0L432.5 1212.0V1213.0L390.5 1213.0Z" stroke-width="4.0" opacity="0.35"/><path d="M448.5 1212.0L489.5 1212.0V1213.0L448.5 1213.0Z" stroke-width="4.0" opacity="0.3"/><path d="M505.0 1212.0L547.5 1212.0V1213.0L505.0 1213.0Z" stroke-width="4.0" opacity="0.4"/><path d="M562.5 1212.0L602.2 1212.0V1213.0L562.5 1213.0Z" stroke-width="4.0" opacity="0.12"/><path d="M617.5 1212.0L655.5 1212.0V1213.0L617.5 1213.0Z" stroke-width="4.0" opacity="0.3"/><path d="M226.5 1224.6L266.5 1224.6V1228.6L226.5 1228.6Z" stroke-width="6.0" opacity="0.8"/><path d="M279.5 1223.8L319.5 1223.8V1230.2L279.5 1230.2Z" stroke-width="6.0" opacity="1"/><path d="M335.5 1224.2L377.0 1224.2V1229.8L335.5 1229.8Z" stroke-width="6.0" opacity="1"/><path d="M391.5 1224.0L431.5 1224.0V1228.0L391.5 1228.0Z" stroke-width="6.0" opacity="0.8"/><path d="M449.5 1224.5L488.5 1224.5V1227.5L449.5 1227.5Z" stroke-width="6.0" opacity="0.5"/><path d="M506.0 1223.8L546.5 1223.8V1230.2L506.0 1230.2Z" stroke-width="6.0" opacity="1"/><path d="M563.5 1225.0L601.2 1225.0V1227.0L563.5 1227.0Z" stroke-width="6.0" opacity="0.25"/><path d="M618.5 1224.5L654.5 1224.5V1227.5L618.5 1227.5Z" stroke-width="6.0" opacity="0.55"/></g>
<g filter="url(#bs)" fill="#000" stroke="#000" stroke-linecap="round" stroke-linejoin="round"><path d="M226.3 1198.0L266.7 1198.0V1199.4L226.3 1199.4Z" stroke-width="5.6" opacity="0.9"/><path d="M279.5 1198.0L319.5 1198.0V1200.0L279.5 1200.0Z" stroke-width="6.0" opacity="0.9"/><path d="M335.5 1198.0L377.0 1198.0V1200.0L335.5 1200.0Z" stroke-width="6.0" opacity="0.9"/><path d="M391.5 1197.5L431.5 1197.5V1199.5L391.5 1199.5Z" stroke-width="6.0" opacity="0.9"/><path d="M448.5 1198.5L489.5 1198.5V1199.5L448.5 1199.5Z" stroke-width="4.0" opacity="0.9"/><path d="M505.8 1198.3L546.7 1198.3V1199.7L505.8 1199.7Z" stroke-width="5.6" opacity="0.9"/><path d="M562.5 1198.5L602.2 1198.5V1199.5L562.5 1199.5Z" stroke-width="4.0" opacity="0.9"/><path d="M617.9 1198.4L655.1 1193.4V1194.6L617.9 1199.6Z" stroke-width="4.8" opacity="0.9"/><path d="M224.3 1226.4L268.7 1226.4V1226.8L224.3 1226.8Z" stroke-width="1.6" opacity="0.3"/><path d="M278.9 1226.4L320.1 1226.4V1227.6L278.9 1227.6Z" stroke-width="4.8" opacity="0.9"/><path d="M334.5 1226.5L378.0 1226.5V1227.5L334.5 1227.5Z" stroke-width="4.0" opacity="0.8"/><path d="M389.3 1225.8L433.7 1225.8V1226.2L389.3 1226.2Z" stroke-width="1.6" opacity="0.3"/><path d="M505.4 1226.4L547.1 1226.4V1227.6L505.4 1227.6Z" stroke-width="4.8" opacity="0.9"/></g>
</g>
<g clip-path="url(#cp11)">
<rect x="218.0" y="1257.4" width="442.79999999999995" height="66.40" fill="#e0e0e0"/>
<g filter="url(#bg)" fill="#000">
<rect x="222.5" y="1247.4" width="42.5" height="86.4" opacity="0.13"/>
<rect x="276.0" y="1247.4" width="43.0" height="86.4" opacity="0.2"/>
<rect x="330.0" y="1247.4" width="44.0" height="86.4" opacity="0.2"/>
<rect x="385.0" y="1247.4" width="45.0" height="86.4" opacity="0.17"/>
<rect x="444.0" y="1247.4" width="45.0" height="86.4" opacity="0.09"/>
<rect x="502.0" y="1247.4" width="44.0" height="86.4" opacity="0.21"/>
<rect x="559.0" y="1247.4" width="42.0" height="86.4" opacity="0.05"/>
<rect x="613.0" y="1247.4" width="43.0" height="86.4" opacity="0.07"/>
</g>
<g filter="url(#bx)" fill="#000" stroke="#000" stroke-linecap="round" stroke-linejoin="round"><path d="M226.5 1282.3L261.0 1282.3V1284.3L226.5 1284.3Z" stroke-width="6.0" opacity="0.2"/><path d="M280.0 1282.3L315.0 1282.3V1284.3L280.0 1284.3Z" stroke-width="6.0" opacity="0.24"/><path d="M334.0 1282.3L370.0 1282.3V1284.3L334.0 1284.3Z" stroke-width="6.0" opacity="0.3"/><path d="M389.0 1282.3L426.0 1282.3V1284.3L389.0 1284.3Z" stroke-width="6.0" opacity="0.22"/><path d="M448.0 1282.3L485.0 1282.3V1284.3L448.0 1284.3Z" stroke-width="6.0" opacity="0.07"/><path d="M506.0 1282.3L542.0 1282.3V1284.3L506.0 1284.3Z" stroke-width="6.0" opacity="0.34"/><path d="M563.0 1282.3L597.0 1282.3V1284.3L563.0 1284.3Z" stroke-width="6.0" opacity="0.04"/><path d="M617.0 1282.3L652.0 1282.3V1284.3L617.0 1284.3Z" stroke-width="6.0" opacity="0.04"/></g>
<g filter="url(#bm)" fill="#000" stroke="#000" stroke-linecap="round" stroke-linejoin="round"><path d="M225.5 1302.5L262.0 1302.5V1303.5L225.5 1303.5Z" stroke-width="4.0" opacity="0.04"/><path d="M279.0 1302.5L316.0 1302.5V1303.5L279.0 1303.5Z" stroke-width="4.0" opacity="0.06"/><path d="M333.0 1302.5L371.0 1302.5V1303.5L333.0 1303.5Z" stroke-width="4.0" opacity="0.06"/><path d="M388.0 1302.5L427.0 1302.5V1303.5L388.0 1303.5Z" stroke-width="4.0" opacity="0.05"/><path d="M447.0 1302.5L486.0 1302.5V1303.5L447.0 1303.5Z" stroke-width="4.0" opacity="0.02"/><path d="M505.0 1302.5L543.0 1302.5V1303.5L505.0 1303.5Z" stroke-width="4.0" opacity="0.06"/><path d="M562.0 1302.5L598.0 1302.5V1303.5L562.0 1303.5Z" stroke-width="4.0" opacity="0.01"/><path d="M616.0 1302.5L653.0 1302.5V1303.5L616.0 1303.5Z" stroke-width="4.0" opacity="0.03"/></g>
<rect x="218.0" y="1257.4" width="442.79999999999995" height="66.40" fill="#000" filter="url(#nz)" opacity="0.8"/>
</g>
<g clip-path="url(#cp12)">
<rect x="218.0" y="1323.8" width="442.79999999999995" height="51.90" fill="#d6d6d6"/>
<g filter="url(#bg)" fill="#000">
<rect x="222.5" y="1313.8" width="46.3" height="71.9" opacity="0.12"/>
<rect x="276.0" y="1313.8" width="46.0" height="71.9" opacity="0.12"/>
<rect x="329.8" y="1313.8" width="48.0" height="71.9" opacity="0.14"/>
<rect x="386.0" y="1313.8" width="48.0" height="71.9" opacity="0.12"/>
<rect x="444.0" y="1313.8" width="49.6" height="71.9" opacity="0.18"/>
<rect x="501.8" y="1313.8" width="48.0" height="71.9" opacity="0.14"/>
<rect x="557.4" y="1313.8" width="47.6" height="71.9" opacity="0.15"/>
<rect x="611.9" y="1313.8" width="46.9" height="71.9" opacity="0.15"/>
</g>
<g filter="url(#bl)" fill="#000" stroke="#000" stroke-linecap="round" stroke-linejoin="round"><rect x="226.0" y="1356.0" width="39.3" height="14.0" opacity="0.22"/><rect x="279.5" y="1356.0" width="39.0" height="14.0" opacity="0.22"/><rect x="333.3" y="1356.0" width="41.0" height="14.0" opacity="0.3"/><rect x="389.5" y="1356.0" width="41.0" height="14.0" opacity="0.3"/><rect x="447.5" y="1356.0" width="42.6" height="14.0" opacity="0.5"/><rect x="505.3" y="1356.0" width="41.0" height="14.0" opacity="0.42"/><rect x="560.9" y="1356.0" width="40.6" height="14.0" opacity="0.42"/><rect x="615.4" y="1356.0" width="39.9" height="14.0" opacity="0.48"/></g>
<g filter="url(#bm)" fill="#000" stroke="#000" stroke-linecap="round" stroke-linejoin="round"><path d="M225.0 1334.0L266.3 1339.0V1345.0L225.0 1340.0Z" stroke-width="6.0" opacity="1"/><path d="M278.5 1338.3L319.5 1339.3V1346.3L278.5 1345.3Z" stroke-width="6.0" opacity="1"/><path d="M332.3 1340.2L375.3 1340.2V1351.2L332.3 1351.2Z" stroke-width="6.0" opacity="1"/><path d="M388.5 1340.0L431.5 1340.0V1348.0L388.5 1348.0Z" stroke-width="6.0" opacity="1"/><path d="M446.5 1340.0L491.1 1340.0V1356.0L446.5 1356.0Z" stroke-width="6.0" opacity="1"/><path d="M504.3 1340.2L547.3 1340.2V1353.2L504.3 1353.2Z" stroke-width="6.0" opacity="1"/><path d="M559.9 1339.7L602.5 1339.7V1353.7L559.9 1353.7Z" stroke-width="6.0" opacity="1"/><path d="M614.4 1339.7L656.3 1339.7V1353.7L614.4 1353.7Z" stroke-width="6.0" opacity="1"/></g>
</g>
<g clip-path="url(#cp13)">
<rect x="218.0" y="1375.7" width="442.79999999999995" height="48.70" fill="#dedede"/>
<g filter="url(#bg)" fill="#000">
<rect x="219.0" y="1365.7" width="48.8" height="68.7" opacity="0.08"/>
<rect x="270.0" y="1365.7" width="50.0" height="68.7" opacity="0.08"/>
<rect x="327.0" y="1365.7" width="47.4" height="68.7" opacity="0.08"/>
<rect x="382.6" y="1365.7" width="48.7" height="68.7" opacity="0.08"/>
<rect x="439.5" y="1365.7" width="50.7" height="68.7" opacity="0.08"/>
<rect x="497.4" y="1365.7" width="49.0" height="68.7" opacity="0.08"/>
<rect x="554.0" y="1365.7" width="47.6" height="68.7" opacity="0.08"/>
<rect x="607.4" y="1365.7" width="48.6" height="68.7" opacity="0.08"/>
</g>
<g filter="url(#bl)" fill="#000" stroke="#000" stroke-linecap="round" stroke-linejoin="round"><rect x="222.5" y="1407.0" width="41.8" height="10.0" opacity="0.1"/><rect x="273.5" y="1407.0" width="43.0" height="10.0" opacity="0.1"/><rect x="330.5" y="1407.0" width="40.4" height="10.0" opacity="0.1"/><rect x="386.1" y="1407.0" width="41.7" height="10.0" opacity="0.1"/><rect x="443.0" y="1407.0" width="43.7" height="10.0" opacity="0.1"/><rect x="500.9" y="1407.0" width="42.0" height="10.0" opacity="0.1"/><rect x="557.5" y="1407.0" width="40.6" height="10.0" opacity="0.1"/><rect x="610.9" y="1407.0" width="41.6" height="10.0" opacity="0.1"/></g>
<g filter="url(#bm)" fill="#000" stroke="#000" stroke-linecap="round" stroke-linejoin="round"><path d="M222.3 1398.5L264.5 1400.5V1401.9L222.3 1399.9Z" stroke-width="5.6" opacity="1"/><path d="M273.3 1399.8L316.7 1399.8V1401.2L273.3 1401.2Z" stroke-width="5.6" opacity="1"/><path d="M329.9 1399.9L371.5 1399.9V1401.1L329.9 1401.1Z" stroke-width="4.8" opacity="1"/><path d="M385.9 1398.3L428.0 1395.8V1397.2L385.9 1399.8Z" stroke-width="5.6" opacity="1"/><path d="M442.8 1395.3L486.9 1395.3V1396.7L442.8 1396.7Z" stroke-width="5.6" opacity="1"/><path d="M500.7 1397.3L543.1 1398.3V1399.7L500.7 1398.7Z" stroke-width="5.6" opacity="1"/><path d="M557.3 1397.8L598.3 1396.8V1398.2L557.3 1399.2Z" stroke-width="5.6" opacity="1"/><path d="M610.3 1396.3L653.1 1395.3V1396.5L610.3 1397.5Z" stroke-width="4.8" opacity="1"/></g>
</g>
<path d="M218.0 97.9H660.8V582.6H218.0ZM218.0 164.7H660.8M218.0 245.6H660.8M218.0 297.0H660.8M218.0 391.8H660.8M218.0 452.6H660.8M218.0 526.6H660.8M218.0 956.7H660.8V1424.4H218.0ZM218.0 1024.0H660.8M218.0 1110.6H660.8M218.0 1169.6H660.8M218.0 1257.4H660.8M218.0 1323.8H660.8M218.0 1375.7H660.8" fill="none" stroke="#000" stroke-width="2.2"/>
<path d="M217.2 582.40H661.9M217.2 625.00H661.9M217.2 668.30H661.9M217.2 711.60H661.9M217.2 755.00H661.9M217.2 798.20H661.9M217.2 841.60H661.9M218.2 582.40V841.60M276.2 582.40V841.60M327.5 582.40V841.60M380.0 582.40V841.60M438.0 582.40V841.60M496.4 582.40V841.60M550.8 582.40V841.60M604.8 582.40V841.60M660.9 582.40V841.60" fill="none" stroke="#000" stroke-width="2"/>
<text x="23.80" y="619.50" font-size="27.3" text-anchor="start" font-weight="bold" >Untreated</text>
<text x="247.20" y="617.60" font-size="27" text-anchor="middle" font-weight="bold" >+</text>
<text x="301.85" y="616.30" font-size="27" text-anchor="middle" font-weight="bold" >-</text>
<text x="353.75" y="616.30" font-size="27" text-anchor="middle" font-weight="bold" >-</text>
<text x="409.00" y="616.30" font-size="27" text-anchor="middle" font-weight="bold" >-</text>
<text x="467.20" y="616.30" font-size="27" text-anchor="middle" font-weight="bold" >-</text>
<text x="523.60" y="616.30" font-size="27" text-anchor="middle" font-weight="bold" >-</text>
<text x="577.80" y="616.30" font-size="27" text-anchor="middle" font-weight="bold" >-</text>
<text x="632.85" y="616.30" font-size="27" text-anchor="middle" font-weight="bold" >-</text>
<text x="23.80" y="662.80" font-size="27.3" text-anchor="start" font-weight="bold" >R1881+EGF</text>
<text x="247.20" y="659.60" font-size="27" text-anchor="middle" font-weight="bold" >-</text>
<text x="301.85" y="660.90" font-size="27" text-anchor="middle" font-weight="bold" >+</text>
<text x="353.75" y="660.90" font-size="27" text-anchor="middle" font-weight="bold" >+</text>
<text x="409.00" y="660.90" font-size="27" text-anchor="middle" font-weight="bold" >+</text>
<text x="467.20" y="660.90" font-size="27" text-anchor="middle" font-weight="bold" >+</text>
<text x="523.60" y="660.90" font-size="27" text-anchor="middle" font-weight="bold" >+</text>
<text x="577.80" y="660.90" font-size="27" text-anchor="middle" font-weight="bold" >+</text>
<text x="632.85" y="660.90" font-size="27" text-anchor="middle" font-weight="bold" >+</text>
<text x="23.80" y="706.10" font-size="27.3" text-anchor="start" font-weight="bold" >DMSO Ctrl</text>
<text x="247.20" y="702.90" font-size="27" text-anchor="middle" font-weight="bold" >-</text>
<text x="301.85" y="702.90" font-size="27" text-anchor="middle" font-weight="bold" >-</text>
<text x="353.75" y="704.20" font-size="27" text-anchor="middle" font-weight="bold" >+</text>
<text x="409.00" y="702.90" font-size="27" text-anchor="middle" font-weight="bold" >-</text>
<text x="467.20" y="702.90" font-size="27" text-anchor="middle" font-weight="bold" >-</text>
<text x="523.60" y="702.90" font-size="27" text-anchor="middle" font-weight="bold" >-</text>
<text x="577.80" y="702.90" font-size="27" text-anchor="middle" font-weight="bold" >-</text>
<text x="632.85" y="702.90" font-size="27" text-anchor="middle" font-weight="bold" >-</text>
<text x="23.80" y="749.50" font-size="27.3" text-anchor="start" font-weight="bold" >Enzalutamide</text>
<text x="247.20" y="746.30" font-size="27" text-anchor="middle" font-weight="bold" >-</text>
<text x="301.85" y="746.30" font-size="27" text-anchor="middle" font-weight="bold" >-</text>
<text x="353.75" y="746.30" font-size="27" text-anchor="middle" font-weight="bold" >-</text>
<text x="409.00" y="747.60" font-size="27" text-anchor="middle" font-weight="bold" >+</text>
<text x="467.20" y="746.30" font-size="27" text-anchor="middle" font-weight="bold" >-</text>
<text x="523.60" y="746.30" font-size="27" text-anchor="middle" font-weight="bold" >-</text>
<text x="577.80" y="747.60" font-size="27" text-anchor="middle" font-weight="bold" >+</text>
<text x="632.85" y="746.30" font-size="27" text-anchor="middle" font-weight="bold" >-</text>
<text x="23.80" y="792.70" font-size="27.3" text-anchor="start" font-weight="bold" >Saracatinib</text>
<text x="247.20" y="789.50" font-size="27" text-anchor="middle" font-weight="bold" >-</text>
<text x="301.85" y="789.50" font-size="27" text-anchor="middle" font-weight="bold" >-</text>
<text x="353.75" y="789.50" font-size="27" text-anchor="middle" font-weight="bold" >-</text>
<text x="409.00" y="789.50" font-size="27" text-anchor="middle" font-weight="bold" >-</text>
<text x="467.20" y="790.80" font-size="27" text-anchor="middle" font-weight="bold" >+</text>
<text x="523.60" y="789.50" font-size="27" text-anchor="middle" font-weight="bold" >-</text>
<text x="577.80" y="790.80" font-size="27" text-anchor="middle" font-weight="bold" >+</text>
<text x="632.85" y="790.80" font-size="27" text-anchor="middle" font-weight="bold" >+</text>
<text x="23.80" y="836.10" font-size="27.3" text-anchor="start" font-weight="bold" >Docetaxel</text>
<text x="247.20" y="832.90" font-size="27" text-anchor="middle" font-weight="bold" >-</text>
<text x="301.85" y="832.90" font-size="27" text-anchor="middle" font-weight="bold" >-</text>
<text x="353.75" y="832.90" font-size="27" text-anchor="middle" font-weight="bold" >-</text>
<text x="409.00" y="832.90" font-size="27" text-anchor="middle" font-weight="bold" >-</text>
<text x="467.20" y="832.90" font-size="27" text-anchor="middle" font-weight="bold" >-</text>
<text x="523.60" y="834.20" font-size="27" text-anchor="middle" font-weight="bold" >+</text>
<text x="577.80" y="832.90" font-size="27" text-anchor="middle" font-weight="bold" >-</text>
<text x="632.85" y="834.20" font-size="27" text-anchor="middle" font-weight="bold" >+</text>
<path d="M217.2 1426.00H661.9M217.2 1469.50H661.9M217.2 1512.70H661.9M217.2 1556.00H661.9M217.2 1599.30H661.9M217.2 1642.80H661.9M217.2 1686.20H661.9M218.2 1426.00V1686.20M276.2 1426.00V1686.20M327.5 1426.00V1686.20M380.0 1426.00V1686.20M438.0 1426.00V1686.20M496.4 1426.00V1686.20M550.8 1426.00V1686.20M604.8 1426.00V1686.20M660.9 1426.00V1686.20" fill="none" stroke="#000" stroke-width="2"/>
<text x="23.80" y="1464.00" font-size="27.3" text-anchor="start" font-weight="bold" >Untreated</text>
<text x="247.20" y="1462.10" font-size="27" text-anchor="middle" font-weight="bold" >+</text>
<text x="301.85" y="1460.80" font-size="27" text-anchor="middle" font-weight="bold" >-</text>
<text x="353.75" y="1460.80" font-size="27" text-anchor="middle" font-weight="bold" >-</text>
<text x="409.00" y="1460.80" font-size="27" text-anchor="middle" font-weight="bold" >-</text>
<text x="467.20" y="1460.80" font-size="27" text-anchor="middle" font-weight="bold" >-</text>
<text x="523.60" y="1460.80" font-size="27" text-anchor="middle" font-weight="bold" >-</text>
<text x="577.80" y="1460.80" font-size="27" text-anchor="middle" font-weight="bold" >-</text>
<text x="632.85" y="1460.80" font-size="27" text-anchor="middle" font-weight="bold" >-</text>
<text x="23.80" y="1507.20" font-size="27.3" text-anchor="start" font-weight="bold" >R1881+EGF</text>
<text x="247.20" y="1504.00" font-size="27" text-anchor="middle" font-weight="bold" >-</text>
<text x="301.85" y="1505.30" font-size="27" text-anchor="middle" font-weight="bold" >+</text>
<text x="353.75" y="1505.30" font-size="27" text-anchor="middle" font-weight="bold" >+</text>
<text x="409.00" y="1505.30" font-size="27" text-anchor="middle" font-weight="bold" >+</text>
<text x="467.20" y="1505.30" font-size="27" text-anchor="middle" font-weight="bold" >+</text>
<text x="523.60" y="1505.30" font-size="27" text-anchor="middle" font-weight="bold" >+</text>
<text x="577.80" y="1505.30" font-size="27" text-anchor="middle" font-weight="bold" >+</text>
<text x="632.85" y="1505.30" font-size="27" text-anchor="middle" font-weight="bold" >+</text>
<text x="23.80" y="1550.50" font-size="27.3" text-anchor="start" font-weight="bold" >DMSO Ctrl</text>
<text x="247.20" y="1547.30" font-size="27" text-anchor="middle" font-weight="bold" >-</text>
<text x="301.85" y="1547.30" font-size="27" text-anchor="middle" font-weight="bold" >-</text>
<text x="353.75" y="1548.60" font-size="27" text-anchor="middle" font-weight="bold" >+</text>
<text x="409.00" y="1547.30" font-size="27" text-anchor="middle" font-weight="bold" >-</text>
<text x="467.20" y="1547.30" font-size="27" text-anchor="middle" font-weight="bold" >-</text>
<text x="523.60" y="1547.30" font-size="27" text-anchor="middle" font-weight="bold" >-</text>
<text x="577.80" y="1547.30" font-size="27" text-anchor="middle" font-weight="bold" >-</text>
<text x="632.85" y="1547.30" font-size="27" text-anchor="middle" font-weight="bold" >-</text>
<text x="23.80" y="1593.80" font-size="27.3" text-anchor="start" font-weight="bold" >Enzalutamide</text>
<text x="247.20" y="1590.60" font-size="27" text-anchor="middle" font-weight="bold" >-</text>
<text x="301.85" y="1590.60" font-size="27" text-anchor="middle" font-weight="bold" >-</text>
<text x="353.75" y="1590.60" font-size="27" text-anchor="middle" font-weight="bold" >-</text>
<text x="409.00" y="1591.90" font-size="27" text-anchor="middle" font-weight="bold" >+</text>
<text x="467.20" y="1590.60" font-size="27" text-anchor="middle" font-weight="bold" >-</text>
<text x="523.60" y="1590.60" font-size="27" text-anchor="middle" font-weight="bold" >-</text>
<text x="577.80" y="1591.90" font-size="27" text-anchor="middle" font-weight="bold" >+</text>
<text x="632.85" y="1590.60" font-size="27" text-anchor="middle" font-weight="bold" >-</text>
<text x="23.80" y="1637.30" font-size="27.3" text-anchor="start" font-weight="bold" >Saracatinib</text>
<text x="247.20" y="1634.10" font-size="27" text-anchor="middle" font-weight="bold" >-</text>
<text x="301.85" y="1634.10" font-size="27" text-anchor="middle" font-weight="bold" >-</text>
<text x="353.75" y="1634.10" font-size="27" text-anchor="middle" font-weight="bold" >-</text>
<text x="409.00" y="1634.10" font-size="27" text-anchor="middle" font-weight="bold" >-</text>
<text x="467.20" y="1635.40" font-size="27" text-anchor="middle" font-weight="bold" >+</text>
<text x="523.60" y="1634.10" font-size="27" text-anchor="middle" font-weight="bold" >-</text>
<text x="577.80" y="1635.40" font-size="27" text-anchor="middle" font-weight="bold" >+</text>
<text x="632.85" y="1635.40" font-size="27" text-anchor="middle" font-weight="bold" >+</text>
<text x="23.80" y="1680.70" font-size="27.3" text-anchor="start" font-weight="bold" >Docetaxel</text>
<text x="247.20" y="1677.50" font-size="27" text-anchor="middle" font-weight="bold" >-</text>
<text x="301.85" y="1677.50" font-size="27" text-anchor="middle" font-weight="bold" >-</text>
<text x="353.75" y="1677.50" font-size="27" text-anchor="middle" font-weight="bold" >-</text>
<text x="409.00" y="1677.50" font-size="27" text-anchor="middle" font-weight="bold" >-</text>
<text x="467.20" y="1677.50" font-size="27" text-anchor="middle" font-weight="bold" >-</text>
<text x="523.60" y="1678.80" font-size="27" text-anchor="middle" font-weight="bold" >+</text>
<text x="577.80" y="1677.50" font-size="27" text-anchor="middle" font-weight="bold" >-</text>
<text x="632.85" y="1678.80" font-size="27" text-anchor="middle" font-weight="bold" >+</text>
<text transform="translate(-2.00 23.85) scale(1 1.04)" font-size="30.5" font-weight="bold" text-anchor="start">A</text>
<text transform="translate(-0.30 902.50) scale(1 1.04)" font-size="30" font-weight="bold" text-anchor="start">B</text>
<text transform="translate(408.80 66.40) scale(1 1.05)" font-size="44.5" font-weight="bold" text-anchor="middle">22Rv1</text>
<text transform="translate(430.80 929.60) scale(1 1.04)" font-size="45" font-weight="bold" text-anchor="middle">LNCaP95</text>
<text x="209.3" y="137.0" font-size="31.5" font-weight="bold" text-anchor="end" textLength="112.2" lengthAdjust="spacingAndGlyphs">ARpY<tspan font-size="20.2" dy="-9.6">534</tspan></text>
<text x="206.1" y="213.3" font-size="31.5" font-weight="bold" text-anchor="end" textLength="98.5" lengthAdjust="spacingAndGlyphs">ARpS<tspan font-size="20.2" dy="-9.6">81</tspan></text>
<text x="195.8" y="284.1" font-size="31.5" font-weight="bold" text-anchor="end" textLength="88.2" lengthAdjust="spacingAndGlyphs">AR-V7</text>
<text x="207.8" y="353.5" font-size="31.5" font-weight="bold" text-anchor="end" textLength="118.4" lengthAdjust="spacingAndGlyphs">Total AR</text>
<text x="208.7" y="432.2" font-size="31.5" font-weight="bold" text-anchor="end" textLength="133.0" lengthAdjust="spacingAndGlyphs">SRC pY<tspan font-size="20.2" dy="-9.6">416</tspan></text>
<text x="207.8" y="507.4" font-size="31.5" font-weight="bold" text-anchor="end" textLength="132.0" lengthAdjust="spacingAndGlyphs">Total SRC</text>
<text x="193.8" y="567.7" font-size="31.5" font-weight="bold" text-anchor="end" textLength="97.9" lengthAdjust="spacingAndGlyphs">β-actin</text>
<text x="204.8" y="994.6" font-size="31.5" font-weight="bold" text-anchor="end" textLength="112.4" lengthAdjust="spacingAndGlyphs">ARpY<tspan font-size="20.2" dy="-9.6">534</tspan></text>
<text x="196.1" y="1080.3" font-size="31.5" font-weight="bold" text-anchor="end" textLength="98.5" lengthAdjust="spacingAndGlyphs">ARpS<tspan font-size="20.2" dy="-9.6">81</tspan></text>
<text x="189.4" y="1152.0" font-size="31.5" font-weight="bold" text-anchor="end" textLength="88.3" lengthAdjust="spacingAndGlyphs">AR-V7</text>
<text x="200.8" y="1227.2" font-size="31.5" font-weight="bold" text-anchor="end" textLength="118.0" lengthAdjust="spacingAndGlyphs">Total AR</text>
<text x="211.2" y="1300.4" font-size="31.5" font-weight="bold" text-anchor="end" textLength="132.5" lengthAdjust="spacingAndGlyphs">SRC pY<tspan font-size="20.2" dy="-9.6">416</tspan></text>
<text x="204.1" y="1359.4" font-size="31.5" font-weight="bold" text-anchor="end" textLength="131.9" lengthAdjust="spacingAndGlyphs">Total SRC</text>
<text x="188.4" y="1408.9" font-size="31.5" font-weight="bold" text-anchor="end" textLength="97.8" lengthAdjust="spacingAndGlyphs">β-actin</text>
<path d="M662.5 109.6l7.8 -7.3v3.5h16v7.6h-16v3.5z" fill="#000"/>
<text x="693" y="114.5" font-size="17.3" font-weight="bold" textLength="46.6" lengthAdjust="spacingAndGlyphs">AR-FL</text>
<path d="M662.5 137.7l7.8 -7.3v3.5h16v7.6h-16v3.5z" fill="#000"/>
<text x="693" y="143.0" font-size="17.3" font-weight="bold" textLength="40.3" lengthAdjust="spacingAndGlyphs">AR-V</text>
<path d="M662.5 187.2l7.8 -7.3v3.5h16v7.6h-16v3.5z" fill="#000"/>
<text x="693" y="192.0" font-size="17.3" font-weight="bold" textLength="46.6" lengthAdjust="spacingAndGlyphs">AR-FL</text>
<path d="M662.5 224.1l7.8 -7.3v3.5h16v7.6h-16v3.5z" fill="#000"/>
<text x="693" y="226.8" font-size="17.3" font-weight="bold" textLength="40.3" lengthAdjust="spacingAndGlyphs">AR-V</text>
<path d="M662.5 320.0l7.8 -7.3v3.5h16v7.6h-16v3.5z" fill="#000"/>
<text x="693" y="323.2" font-size="17.3" font-weight="bold" textLength="46.6" lengthAdjust="spacingAndGlyphs">AR-FL</text>
<path d="M662.5 349.3l7.8 -7.3v3.5h16v7.6h-16v3.5z" fill="#000"/>
<text x="693" y="354.3" font-size="17.3" font-weight="bold" textLength="40.3" lengthAdjust="spacingAndGlyphs">AR-V</text>
<path d="M662.5 976.6l7.8 -7.3v3.5h16v7.6h-16v3.5z" fill="#000"/>
<text x="693" y="976.2" font-size="17.3" font-weight="bold" textLength="46.6" lengthAdjust="spacingAndGlyphs">AR-FL</text>
<path d="M662.5 995.4l7.8 -7.3v3.5h16v7.6h-16v3.5z" fill="#000"/>
<text x="693" y="999.6" font-size="17.3" font-weight="bold" textLength="40.3" lengthAdjust="spacingAndGlyphs">AR-V</text>
<path d="M662.5 1060.4l7.8 -7.3v3.5h16v7.6h-16v3.5z" fill="#000"/>
<text x="693" y="1064.3" font-size="17.3" font-weight="bold" textLength="46.6" lengthAdjust="spacingAndGlyphs">AR-FL</text>
<path d="M662.5 1088.3l7.8 -7.3v3.5h16v7.6h-16v3.5z" fill="#000"/>
<text x="693" y="1090.5" font-size="17.3" font-weight="bold" textLength="40.3" lengthAdjust="spacingAndGlyphs">AR-V</text>
<path d="M662.5 1194.2l7.8 -7.3v3.5h16v7.6h-16v3.5z" fill="#000"/>
<text x="693" y="1198.8" font-size="17.3" font-weight="bold" textLength="46.6" lengthAdjust="spacingAndGlyphs">AR-FL</text>
<path d="M662.5 1225.6l7.8 -7.3v3.5h16v7.6h-16v3.5z" fill="#000"/>
<text x="693" y="1230.1" font-size="17.3" font-weight="bold" textLength="40.3" lengthAdjust="spacingAndGlyphs">AR-V</text>
<g>
<rect x="855.70" y="275.30" width="14.60" height="60.30" fill="#000"/>
<rect x="878.00" y="220.92" width="12.40" height="114.68" fill="#a1a1a6" stroke="#000" stroke-width="2.2"/>
<rect x="899.50" y="222.73" width="12.40" height="112.87" fill="#828282" stroke="#000" stroke-width="2.2"/>
<rect x="921.40" y="236.60" width="12.40" height="99.00" fill="#d90000" stroke="#000" stroke-width="2.2"/>
<rect x="943.20" y="303.54" width="12.40" height="32.07" fill="#0000ff" stroke="#000" stroke-width="2.2"/>
<rect x="964.50" y="249.27" width="12.40" height="86.34" fill="#ffff3f" stroke="#000" stroke-width="2.2"/>
<rect x="986.40" y="316.20" width="12.40" height="19.40" fill="#9112e0" stroke="#000" stroke-width="2.2"/>
<rect x="1008.20" y="308.36" width="12.40" height="27.24" fill="#6cbf2e" stroke="#000" stroke-width="2.2"/>
<path d="M884.20 192.69V247.26M880.80 192.69H887.60M880.80 247.26H887.60" stroke="#1a1a1a" stroke-width="1" fill="none"/>
<path d="M905.70 176.41V266.86M902.30 176.41H909.10M902.30 266.86H909.10" stroke="#1a1a1a" stroke-width="1" fill="none"/>
<path d="M927.60 201.13V269.27M924.20 201.13H931.00M924.20 269.27H931.00" stroke="#1a1a1a" stroke-width="1" fill="none"/>
<path d="M949.40 291.22V313.29M946.00 291.22H952.80M946.00 313.29H952.80" stroke="#1a1a1a" stroke-width="1" fill="none"/>
<path d="M970.70 231.52V264.02M967.30 231.52H974.10M967.30 264.02H974.10" stroke="#1a1a1a" stroke-width="1" fill="none"/>
<path d="M992.60 310.88V317.81M989.20 310.88H996.00M989.20 317.81H996.00" stroke="#1a1a1a" stroke-width="1" fill="none"/>
<path d="M1014.40 297.37V316.18M1011.00 297.37H1017.80M1011.00 316.18H1017.80" stroke="#1a1a1a" stroke-width="1" fill="none"/>
<path d="M849.30 153.70V336.60M848.30 335.60H1029.50" stroke="#000" stroke-width="2" fill="none"/>
<path d="M840.80 335.60H849.30M840.80 275.30H849.30M840.80 215.00H849.30M840.80 154.70H849.30M863.00 335.60V343.60M884.20 335.60V343.60M905.70 335.60V343.60M927.60 335.60V343.60M949.40 335.60V343.60M970.70 335.60V343.60M992.60 335.60V343.60M1014.40 335.60V343.60" stroke="#000" stroke-width="1.8" fill="none"/>
<text x="839.00" y="340.20" font-size="13.4" text-anchor="end" font-weight="bold" >0</text>
<text x="839.00" y="279.90" font-size="13.4" text-anchor="end" font-weight="bold" >1</text>
<text x="839.00" y="219.60" font-size="13.4" text-anchor="end" font-weight="bold" >2</text>
<text x="839.00" y="159.30" font-size="13.4" text-anchor="end" font-weight="bold" >3</text>
<text transform="translate(866.70 356.80) rotate(-45)" font-size="14" text-anchor="end" font-weight="bold">Vehicle</text>
<text transform="translate(887.90 356.80) rotate(-45)" font-size="14" text-anchor="end" font-weight="bold">R1881+EGF</text>
<text transform="translate(909.40 356.80) rotate(-45)" font-size="14" text-anchor="end" font-weight="bold">DMSO Ctrl</text>
<text transform="translate(931.30 356.80) rotate(-45)" font-size="14" text-anchor="end" font-weight="bold">Enza</text>
<text transform="translate(953.10 356.80) rotate(-45)" font-size="14" text-anchor="end" font-weight="bold">Sara</text>
<text transform="translate(974.40 356.80) rotate(-45)" font-size="14" text-anchor="end" font-weight="bold">DTX</text>
<text transform="translate(996.30 356.80) rotate(-45)" font-size="14" text-anchor="end" font-weight="bold">E+S</text>
<text transform="translate(1018.10 356.80) rotate(-45)" font-size="14" text-anchor="end" font-weight="bold">D+S</text>
<text x="938.20" y="40.70" font-size="17.8" text-anchor="middle" font-weight="bold" >AR-FL pY534</text>
<text x="938.50" y="433.30" font-size="15" text-anchor="middle" font-weight="bold" >Drug Group</text>
<text transform="translate(808.80 244.80) rotate(-90)" font-size="15.2" text-anchor="middle" font-weight="bold">ARpY534/Total AR-FL</text>
<path d="M906.30 76.90H1014.80" stroke="#000" stroke-width="2" fill="none"/>
<text class="st" x="962.00" y="72.00" font-size="19" text-anchor="middle" letter-spacing="2.6">***</text>
<path d="M906.30 116.00H992.80" stroke="#000" stroke-width="2" fill="none"/>
<text class="st" x="951.00" y="111.00" font-size="19" text-anchor="middle" letter-spacing="2.6">***</text>
<path d="M906.30 154.80H949.60" stroke="#000" stroke-width="2" fill="none"/>
<text class="st" x="929.30" y="150.00" font-size="19" text-anchor="middle" letter-spacing="2.6">***</text>
</g>
<g>
<rect x="1142.00" y="313.20" width="14.60" height="22.60" fill="#000"/>
<rect x="1164.60" y="270.46" width="12.40" height="65.34" fill="#a1a1a6" stroke="#000" stroke-width="2.2"/>
<rect x="1186.60" y="262.32" width="12.40" height="73.48" fill="#828282" stroke="#000" stroke-width="2.2"/>
<rect x="1208.30" y="286.50" width="12.40" height="49.30" fill="#d90000" stroke="#000" stroke-width="2.2"/>
<rect x="1230.20" y="325.83" width="12.40" height="9.97" fill="#0000ff" stroke="#000" stroke-width="2.2"/>
<rect x="1252.00" y="289.89" width="12.40" height="45.91" fill="#ffff3f" stroke="#000" stroke-width="2.2"/>
<rect x="1273.70" y="312.27" width="12.40" height="23.53" fill="#9112e0" stroke="#000" stroke-width="2.2"/>
<rect x="1295.20" y="314.07" width="12.40" height="21.73" fill="#6cbf2e" stroke="#000" stroke-width="2.2"/>
<path d="M1170.80 218.51V319.75M1167.40 218.51H1174.20M1167.40 319.75H1174.20" stroke="#1a1a1a" stroke-width="1" fill="none"/>
<path d="M1192.80 198.39V323.37M1189.40 198.39H1196.20M1189.40 323.37H1196.20" stroke="#1a1a1a" stroke-width="1" fill="none"/>
<path d="M1214.50 255.34V314.56M1211.10 255.34H1217.90M1211.10 314.56H1217.90" stroke="#1a1a1a" stroke-width="1" fill="none"/>
<path d="M1236.40 313.20V335.80M1233.00 313.20H1239.80" stroke="#1a1a1a" stroke-width="1" fill="none"/>
<path d="M1258.20 250.37V326.31M1254.80 250.37H1261.60M1254.80 326.31H1261.60" stroke="#1a1a1a" stroke-width="1" fill="none"/>
<path d="M1279.90 286.31V335.80M1276.50 286.31H1283.30" stroke="#1a1a1a" stroke-width="1" fill="none"/>
<path d="M1301.40 287.66V335.80M1298.00 287.66H1304.80" stroke="#1a1a1a" stroke-width="1" fill="none"/>
<path d="M1135.30 154.00V336.80M1134.30 335.80H1316.90" stroke="#000" stroke-width="2" fill="none"/>
<path d="M1126.80 335.80H1135.30M1126.80 290.60H1135.30M1126.80 245.40H1135.30M1126.80 200.20H1135.30M1126.80 155.00H1135.30M1149.30 335.80V343.80M1170.80 335.80V343.80M1192.80 335.80V343.80M1214.50 335.80V343.80M1236.40 335.80V343.80M1258.20 335.80V343.80M1279.90 335.80V343.80M1301.40 335.80V343.80" stroke="#000" stroke-width="1.8" fill="none"/>
<text x="1125.00" y="340.40" font-size="13.4" text-anchor="end" font-weight="bold" >0</text>
<text x="1125.00" y="295.20" font-size="13.4" text-anchor="end" font-weight="bold" >2</text>
<text x="1125.00" y="250.00" font-size="13.4" text-anchor="end" font-weight="bold" >4</text>
<text x="1125.00" y="204.80" font-size="13.4" text-anchor="end" font-weight="bold" >6</text>
<text x="1125.00" y="159.60" font-size="13.4" text-anchor="end" font-weight="bold" >8</text>
<text transform="translate(1153.00 357.00) rotate(-45)" font-size="14" text-anchor="end" font-weight="bold">Vehicle</text>
<text transform="translate(1174.50 357.00) rotate(-45)" font-size="14" text-anchor="end" font-weight="bold">R1881+EGF</text>
<text transform="translate(1196.50 357.00) rotate(-45)" font-size="14" text-anchor="end" font-weight="bold">DMSO Ctrl</text>
<text transform="translate(1218.20 357.00) rotate(-45)" font-size="14" text-anchor="end" font-weight="bold">Enza</text>
<text transform="translate(1240.10 357.00) rotate(-45)" font-size="14" text-anchor="end" font-weight="bold">Sara</text>
<text transform="translate(1261.90 357.00) rotate(-45)" font-size="14" text-anchor="end" font-weight="bold">DTX</text>
<text transform="translate(1283.60 357.00) rotate(-45)" font-size="14" text-anchor="end" font-weight="bold">E+S</text>
<text transform="translate(1305.10 357.00) rotate(-45)" font-size="14" text-anchor="end" font-weight="bold">D+S</text>
<text x="1225.50" y="40.70" font-size="17.8" text-anchor="middle" font-weight="bold" >AR-V pY534</text>
<text x="1225.30" y="433.30" font-size="15" text-anchor="middle" font-weight="bold" >Drug Group</text>
<text transform="translate(1096.30 247.00) rotate(-90)" font-size="15.2" text-anchor="middle" font-weight="bold">ARpY534/Total AR-V</text>
</g>
<g>
<rect x="992.60" y="687.05" width="14.60" height="90.75" fill="#000"/>
<rect x="1015.10" y="681.98" width="12.40" height="95.82" fill="#a1a1a6" stroke="#000" stroke-width="2.2"/>
<rect x="1037.20" y="676.90" width="12.40" height="100.90" fill="#828282" stroke="#000" stroke-width="2.2"/>
<rect x="1058.80" y="673.90" width="12.40" height="103.90" fill="#d90000" stroke="#000" stroke-width="2.2"/>
<rect x="1080.60" y="711.20" width="12.40" height="66.60" fill="#0000ff" stroke="#000" stroke-width="2.2"/>
<rect x="1102.20" y="670.91" width="12.40" height="106.89" fill="#ffff3f" stroke="#000" stroke-width="2.2"/>
<rect x="1123.80" y="728.62" width="12.40" height="49.18" fill="#9112e0" stroke="#000" stroke-width="2.2"/>
<rect x="1145.70" y="728.62" width="12.40" height="49.18" fill="#6cbf2e" stroke="#000" stroke-width="2.2"/>
<path d="M1021.30 658.01V703.93M1017.90 658.01H1024.70M1017.90 703.93H1024.70" stroke="#1a1a1a" stroke-width="1" fill="none"/>
<path d="M1043.40 646.21V705.20M1040.00 646.21H1046.80M1040.00 705.20H1046.80" stroke="#1a1a1a" stroke-width="1" fill="none"/>
<path d="M1065.00 658.92V685.23M1061.60 658.92H1068.40M1061.60 685.23H1068.40" stroke="#1a1a1a" stroke-width="1" fill="none"/>
<path d="M1086.80 687.96V731.52M1083.40 687.96H1090.20M1083.40 731.52H1090.20" stroke="#1a1a1a" stroke-width="1" fill="none"/>
<path d="M1108.40 647.12V692.22M1105.00 647.12H1111.80M1105.00 692.22H1111.80" stroke="#1a1a1a" stroke-width="1" fill="none"/>
<path d="M1130.00 710.10V744.40M1126.60 710.10H1133.40M1126.60 744.40H1133.40" stroke="#1a1a1a" stroke-width="1" fill="none"/>
<path d="M1151.90 713.46V740.59M1148.50 713.46H1155.30M1148.50 740.59H1155.30" stroke="#1a1a1a" stroke-width="1" fill="none"/>
<path d="M986.10 595.30V778.80M985.10 777.80H1166.90" stroke="#000" stroke-width="2" fill="none"/>
<path d="M977.60 777.80H986.10M977.60 732.42H986.10M977.60 687.05H986.10M977.60 641.67H986.10M977.60 596.30H986.10M999.90 777.80V785.80M1021.30 777.80V785.80M1043.40 777.80V785.80M1065.00 777.80V785.80M1086.80 777.80V785.80M1108.40 777.80V785.80M1130.00 777.80V785.80M1151.90 777.80V785.80" stroke="#000" stroke-width="1.8" fill="none"/>
<text x="975.80" y="782.40" font-size="13.4" text-anchor="end" font-weight="bold" >0.0</text>
<text x="975.80" y="737.02" font-size="13.4" text-anchor="end" font-weight="bold" >0.5</text>
<text x="975.80" y="691.65" font-size="13.4" text-anchor="end" font-weight="bold" >1.0</text>
<text x="975.80" y="646.27" font-size="13.4" text-anchor="end" font-weight="bold" >1.5</text>
<text x="975.80" y="600.90" font-size="13.4" text-anchor="end" font-weight="bold" >2.0</text>
<text transform="translate(1003.60 799.00) rotate(-45)" font-size="14" text-anchor="end" font-weight="bold">Vehicle</text>
<text transform="translate(1025.00 799.00) rotate(-45)" font-size="14" text-anchor="end" font-weight="bold">R1881+EGF</text>
<text transform="translate(1047.10 799.00) rotate(-45)" font-size="14" text-anchor="end" font-weight="bold">DMSO Ctrl</text>
<text transform="translate(1068.70 799.00) rotate(-45)" font-size="14" text-anchor="end" font-weight="bold">Enza</text>
<text transform="translate(1090.50 799.00) rotate(-45)" font-size="14" text-anchor="end" font-weight="bold">Sara</text>
<text transform="translate(1112.10 799.00) rotate(-45)" font-size="14" text-anchor="end" font-weight="bold">DTX</text>
<text transform="translate(1133.70 799.00) rotate(-45)" font-size="14" text-anchor="end" font-weight="bold">E+S</text>
<text transform="translate(1155.60 799.00) rotate(-45)" font-size="14" text-anchor="end" font-weight="bold">D+S</text>
<text x="1075.40" y="481.80" font-size="17.8" text-anchor="middle" font-weight="bold" >AR-V expression</text>
<text x="1076.20" y="874.50" font-size="15" text-anchor="middle" font-weight="bold" >Drug Group</text>
<text transform="translate(946.20 687.00) rotate(-90)" font-size="15.2" text-anchor="middle" font-weight="bold">fold change to Beta-Actin</text>
<path d="M1043.60 586.10H1151.90" stroke="#000" stroke-width="2" fill="none"/>
<text class="st" x="1097.60" y="580.90" font-size="19" text-anchor="middle">*</text>
<path d="M1043.60 624.70H1129.80" stroke="#000" stroke-width="2" fill="none"/>
<text class="st" x="1086.80" y="619.90" font-size="19" text-anchor="middle">*</text>
</g>
<g>
<rect x="862.00" y="1135.55" width="14.60" height="90.35" fill="#000"/>
<rect x="884.40" y="1102.74" width="12.40" height="123.16" fill="#a1a1a6" stroke="#000" stroke-width="2.2"/>
<rect x="906.20" y="1097.65" width="12.40" height="128.25" fill="#828282" stroke="#000" stroke-width="2.2"/>
<rect x="928.10" y="1118.83" width="12.40" height="107.07" fill="#d90000" stroke="#000" stroke-width="2.2"/>
<rect x="949.80" y="1162.01" width="12.40" height="63.89" fill="#0000ff" stroke="#000" stroke-width="2.2"/>
<rect x="971.20" y="1091.92" width="12.40" height="133.98" fill="#ffff3f" stroke="#000" stroke-width="2.2"/>
<rect x="992.70" y="1174.91" width="12.40" height="50.99" fill="#9112e0" stroke="#000" stroke-width="2.2"/>
<rect x="1015.00" y="1151.37" width="12.40" height="74.53" fill="#6cbf2e" stroke="#000" stroke-width="2.2"/>
<path d="M890.60 1062.37V1101.64M887.20 1062.37H894.00" stroke="#1a1a1a" stroke-width="1" fill="none"/>
<path d="M912.40 1055.46V1096.55M909.00 1055.46H915.80" stroke="#1a1a1a" stroke-width="1" fill="none"/>
<path d="M934.30 1090.19V1117.73M930.90 1090.19H937.70" stroke="#1a1a1a" stroke-width="1" fill="none"/>
<path d="M956.00 1152.54V1160.91M952.60 1152.54H959.40" stroke="#1a1a1a" stroke-width="1" fill="none"/>
<path d="M977.40 1067.10V1090.82M974.00 1067.10H980.80" stroke="#1a1a1a" stroke-width="1" fill="none"/>
<path d="M998.90 1152.54V1173.81M995.50 1152.54H1002.30" stroke="#1a1a1a" stroke-width="1" fill="none"/>
<path d="M1021.20 1127.73V1150.27M1017.80 1127.73H1024.60" stroke="#1a1a1a" stroke-width="1" fill="none"/>
<path d="M855.00 1043.10V1226.90M854.00 1225.90H1035.90" stroke="#000" stroke-width="2" fill="none"/>
<path d="M846.50 1225.90H855.00M846.50 1180.45H855.00M846.50 1135.00H855.00M846.50 1089.55H855.00M846.50 1044.10H855.00M869.30 1225.90V1233.90M890.60 1225.90V1233.90M912.40 1225.90V1233.90M934.30 1225.90V1233.90M956.00 1225.90V1233.90M977.40 1225.90V1233.90M998.90 1225.90V1233.90M1021.20 1225.90V1233.90" stroke="#000" stroke-width="1.8" fill="none"/>
<text x="844.70" y="1230.50" font-size="13.4" text-anchor="end" font-weight="bold" >0.0</text>
<text x="844.70" y="1185.05" font-size="13.4" text-anchor="end" font-weight="bold" >0.5</text>
<text x="844.70" y="1139.60" font-size="13.4" text-anchor="end" font-weight="bold" >1.0</text>
<text x="844.70" y="1094.15" font-size="13.4" text-anchor="end" font-weight="bold" >1.5</text>
<text x="844.70" y="1048.70" font-size="13.4" text-anchor="end" font-weight="bold" >2.0</text>
<text transform="translate(873.00 1247.10) rotate(-45)" font-size="14" text-anchor="end" font-weight="bold">Vehicle</text>
<text transform="translate(894.30 1247.10) rotate(-45)" font-size="14" text-anchor="end" font-weight="bold">R1881+EGF</text>
<text transform="translate(916.10 1247.10) rotate(-45)" font-size="14" text-anchor="end" font-weight="bold">DMSO</text>
<text transform="translate(938.00 1247.10) rotate(-45)" font-size="14" text-anchor="end" font-weight="bold">Enza</text>
<text transform="translate(959.70 1247.10) rotate(-45)" font-size="14" text-anchor="end" font-weight="bold">Sara</text>
<text transform="translate(981.10 1247.10) rotate(-45)" font-size="14" text-anchor="end" font-weight="bold">DTX</text>
<text transform="translate(1002.60 1247.10) rotate(-45)" font-size="14" text-anchor="end" font-weight="bold">E+S</text>
<text transform="translate(1024.90 1247.10) rotate(-45)" font-size="14" text-anchor="end" font-weight="bold">D+S</text>
<text x="944.50" y="930.50" font-size="17.8" text-anchor="middle" font-weight="bold" >AR-FL pY534</text>
<text x="945.00" y="1323.00" font-size="15" text-anchor="middle" font-weight="bold" >Drug Group</text>
<text transform="translate(804.20 1135.00) rotate(-90)" font-size="15.2" text-anchor="middle" font-weight="bold">ARpY534/Total AR-FL</text>
<path d="M912.40 1033.70H998.90" stroke="#000" stroke-width="2" fill="none"/>
<text class="st" x="956.00" y="1029.00" font-size="19" text-anchor="middle">*</text>
</g>
<g>
<rect x="1140.80" y="1213.76" width="14.60" height="11.84" fill="#000"/>
<rect x="1163.70" y="1123.42" width="12.40" height="102.18" fill="#a1a1a6" stroke="#000" stroke-width="2.2"/>
<rect x="1185.40" y="1136.10" width="12.40" height="89.50" fill="#828282" stroke="#000" stroke-width="2.2"/>
<rect x="1206.90" y="1137.07" width="12.40" height="88.53" fill="#d90000" stroke="#000" stroke-width="2.2"/>
<rect x="1228.70" y="1211.48" width="12.40" height="14.12" fill="#0000ff" stroke="#000" stroke-width="2.2"/>
<rect x="1250.00" y="1155.79" width="12.40" height="69.81" fill="#ffff3f" stroke="#000" stroke-width="2.2"/>
<rect x="1271.70" y="1205.56" width="12.40" height="20.04" fill="#9112e0" stroke="#000" stroke-width="2.2"/>
<rect x="1293.50" y="1207.73" width="12.40" height="17.87" fill="#6cbf2e" stroke="#000" stroke-width="2.2"/>
<path d="M1169.90 1103.59V1122.32M1166.50 1103.59H1173.30" stroke="#1a1a1a" stroke-width="1" fill="none"/>
<path d="M1191.60 1073.39V1135.00M1188.20 1073.39H1195.00" stroke="#1a1a1a" stroke-width="1" fill="none"/>
<path d="M1213.10 1109.63V1135.97M1209.70 1109.63H1216.50" stroke="#1a1a1a" stroke-width="1" fill="none"/>
<path d="M1234.90 1205.31V1210.38M1231.50 1205.31H1238.30" stroke="#1a1a1a" stroke-width="1" fill="none"/>
<path d="M1256.20 1145.39V1154.69M1252.80 1145.39H1259.60" stroke="#1a1a1a" stroke-width="1" fill="none"/>
<path d="M1277.90 1192.98V1204.46M1274.50 1192.98H1281.30" stroke="#1a1a1a" stroke-width="1" fill="none"/>
<path d="M1299.70 1192.02V1206.63M1296.30 1192.02H1303.10" stroke="#1a1a1a" stroke-width="1" fill="none"/>
<path d="M1134.10 1043.40V1226.60M1133.10 1225.60H1314.90" stroke="#000" stroke-width="2" fill="none"/>
<path d="M1125.60 1225.60H1134.10M1125.60 1165.20H1134.10M1125.60 1104.80H1134.10M1125.60 1044.40H1134.10M1148.10 1225.60V1233.60M1169.90 1225.60V1233.60M1191.60 1225.60V1233.60M1213.10 1225.60V1233.60M1234.90 1225.60V1233.60M1256.20 1225.60V1233.60M1277.90 1225.60V1233.60M1299.70 1225.60V1233.60" stroke="#000" stroke-width="1.8" fill="none"/>
<text x="1123.80" y="1230.20" font-size="13.4" text-anchor="end" font-weight="bold" >0</text>
<text x="1123.80" y="1169.80" font-size="13.4" text-anchor="end" font-weight="bold" >5</text>
<text x="1123.80" y="1109.40" font-size="13.4" text-anchor="end" font-weight="bold" >10</text>
<text x="1123.80" y="1049.00" font-size="13.4" text-anchor="end" font-weight="bold" >15</text>
<text transform="translate(1151.80 1246.80) rotate(-45)" font-size="14" text-anchor="end" font-weight="bold">Vehicle</text>
<text transform="translate(1173.60 1246.80) rotate(-45)" font-size="14" text-anchor="end" font-weight="bold">R1881+EGF</text>
<text transform="translate(1195.30 1246.80) rotate(-45)" font-size="14" text-anchor="end" font-weight="bold">DMSO</text>
<text transform="translate(1216.80 1246.80) rotate(-45)" font-size="14" text-anchor="end" font-weight="bold">Enza</text>
<text transform="translate(1238.60 1246.80) rotate(-45)" font-size="14" text-anchor="end" font-weight="bold">Sara</text>
<text transform="translate(1259.90 1246.80) rotate(-45)" font-size="14" text-anchor="end" font-weight="bold">DTX</text>
<text transform="translate(1281.60 1246.80) rotate(-45)" font-size="14" text-anchor="end" font-weight="bold">E+S</text>
<text transform="translate(1303.40 1246.80) rotate(-45)" font-size="14" text-anchor="end" font-weight="bold">D+S</text>
<text x="1224.00" y="930.50" font-size="17.8" text-anchor="middle" font-weight="bold" >AR-V pY534</text>
<text x="1224.00" y="1323.00" font-size="15" text-anchor="middle" font-weight="bold" >Drug Group</text>
<text transform="translate(1096.30 1136.00) rotate(-90)" font-size="15.2" text-anchor="middle" font-weight="bold">ARpY534/Total AR-V</text>
<path d="M1191.60 1013.00H1299.70" stroke="#000" stroke-width="2" fill="none"/>
<text class="st" x="1245.70" y="1008.40" font-size="19" text-anchor="middle">*</text>
<path d="M1191.60 1051.70H1234.90" stroke="#000" stroke-width="2" fill="none"/>
<text class="st" x="1213.10" y="1046.90" font-size="19" text-anchor="middle">*</text>
</g>
<g>
<rect x="993.00" y="1546.47" width="14.60" height="120.53" fill="#000"/>
<rect x="1015.80" y="1542.75" width="12.40" height="124.25" fill="#a1a1a6" stroke="#000" stroke-width="2.2"/>
<rect x="1037.60" y="1526.71" width="12.40" height="140.29" fill="#828282" stroke="#000" stroke-width="2.2"/>
<rect x="1059.20" y="1539.73" width="12.40" height="127.27" fill="#d90000" stroke="#000" stroke-width="2.2"/>
<rect x="1081.00" y="1582.28" width="12.40" height="84.72" fill="#0000ff" stroke="#000" stroke-width="2.2"/>
<rect x="1102.70" y="1530.57" width="12.40" height="136.43" fill="#ffff3f" stroke="#000" stroke-width="2.2"/>
<rect x="1124.30" y="1598.67" width="12.40" height="68.33" fill="#9112e0" stroke="#000" stroke-width="2.2"/>
<rect x="1146.10" y="1596.74" width="12.40" height="70.26" fill="#6cbf2e" stroke="#000" stroke-width="2.2"/>
<path d="M1022.00 1529.95V1552.85M1018.60 1529.95H1025.40M1018.60 1552.85H1025.40" stroke="#1a1a1a" stroke-width="1" fill="none"/>
<path d="M1043.80 1507.90V1541.65M1040.40 1507.90H1047.20M1040.40 1541.65H1047.20" stroke="#1a1a1a" stroke-width="1" fill="none"/>
<path d="M1065.40 1502.83V1573.10M1062.00 1502.83H1068.80M1062.00 1573.10H1068.80" stroke="#1a1a1a" stroke-width="1" fill="none"/>
<path d="M1087.20 1563.94V1597.81M1083.80 1563.94H1090.60M1083.80 1597.81H1090.60" stroke="#1a1a1a" stroke-width="1" fill="none"/>
<path d="M1108.90 1510.67V1546.95M1105.50 1510.67H1112.30M1105.50 1546.95H1112.30" stroke="#1a1a1a" stroke-width="1" fill="none"/>
<path d="M1130.50 1568.40V1625.90M1127.10 1568.40H1133.90M1127.10 1625.90H1133.90" stroke="#1a1a1a" stroke-width="1" fill="none"/>
<path d="M1152.30 1558.04V1632.29M1148.90 1558.04H1155.70M1148.90 1632.29H1155.70" stroke="#1a1a1a" stroke-width="1" fill="none"/>
<path d="M986.80 1485.20V1668.00M985.80 1667.00H1167.60" stroke="#000" stroke-width="2" fill="none"/>
<path d="M978.30 1667.00H986.80M978.30 1606.73H986.80M978.30 1546.47H986.80M978.30 1486.20H986.80M1000.30 1667.00V1675.00M1022.00 1667.00V1675.00M1043.80 1667.00V1675.00M1065.40 1667.00V1675.00M1087.20 1667.00V1675.00M1108.90 1667.00V1675.00M1130.50 1667.00V1675.00M1152.30 1667.00V1675.00" stroke="#000" stroke-width="1.8" fill="none"/>
<text x="976.50" y="1671.60" font-size="13.4" text-anchor="end" font-weight="bold" >0.0</text>
<text x="976.50" y="1611.33" font-size="13.4" text-anchor="end" font-weight="bold" >0.5</text>
<text x="976.50" y="1551.07" font-size="13.4" text-anchor="end" font-weight="bold" >1.0</text>
<text x="976.50" y="1490.80" font-size="13.4" text-anchor="end" font-weight="bold" >1.5</text>
<text transform="translate(1004.00 1688.20) rotate(-45)" font-size="14" text-anchor="end" font-weight="bold">Vehicle</text>
<text transform="translate(1025.70 1688.20) rotate(-45)" font-size="14" text-anchor="end" font-weight="bold">R1881+EGF</text>
<text transform="translate(1047.50 1688.20) rotate(-45)" font-size="14" text-anchor="end" font-weight="bold">DMSO</text>
<text transform="translate(1069.10 1688.20) rotate(-45)" font-size="14" text-anchor="end" font-weight="bold">Enza</text>
<text transform="translate(1090.90 1688.20) rotate(-45)" font-size="14" text-anchor="end" font-weight="bold">Sara</text>
<text transform="translate(1112.60 1688.20) rotate(-45)" font-size="14" text-anchor="end" font-weight="bold">DTX</text>
<text transform="translate(1134.20 1688.20) rotate(-45)" font-size="14" text-anchor="end" font-weight="bold">E+S</text>
<text transform="translate(1156.00 1688.20) rotate(-45)" font-size="14" text-anchor="end" font-weight="bold">D+S</text>
<text x="1076.20" y="1372.20" font-size="17.8" text-anchor="middle" font-weight="bold" >AR-V expression</text>
<text x="1076.60" y="1764.80" font-size="15" text-anchor="middle" font-weight="bold" >Drug Group</text>
<text transform="translate(946.20 1576.50) rotate(-90)" font-size="15.2" text-anchor="middle" font-weight="bold">fold change to Beta-Actin</text>
<path d="M1044.00 1443.00H1152.30" stroke="#000" stroke-width="2" fill="none"/>
<text class="st" x="1098.00" y="1438.00" font-size="19" text-anchor="middle">*</text>
<path d="M1044.00 1481.60H1130.50" stroke="#000" stroke-width="2" fill="none"/>
<text class="st" x="1087.20" y="1477.00" font-size="19" text-anchor="middle">*</text>
</g>
</svg></body></html>
